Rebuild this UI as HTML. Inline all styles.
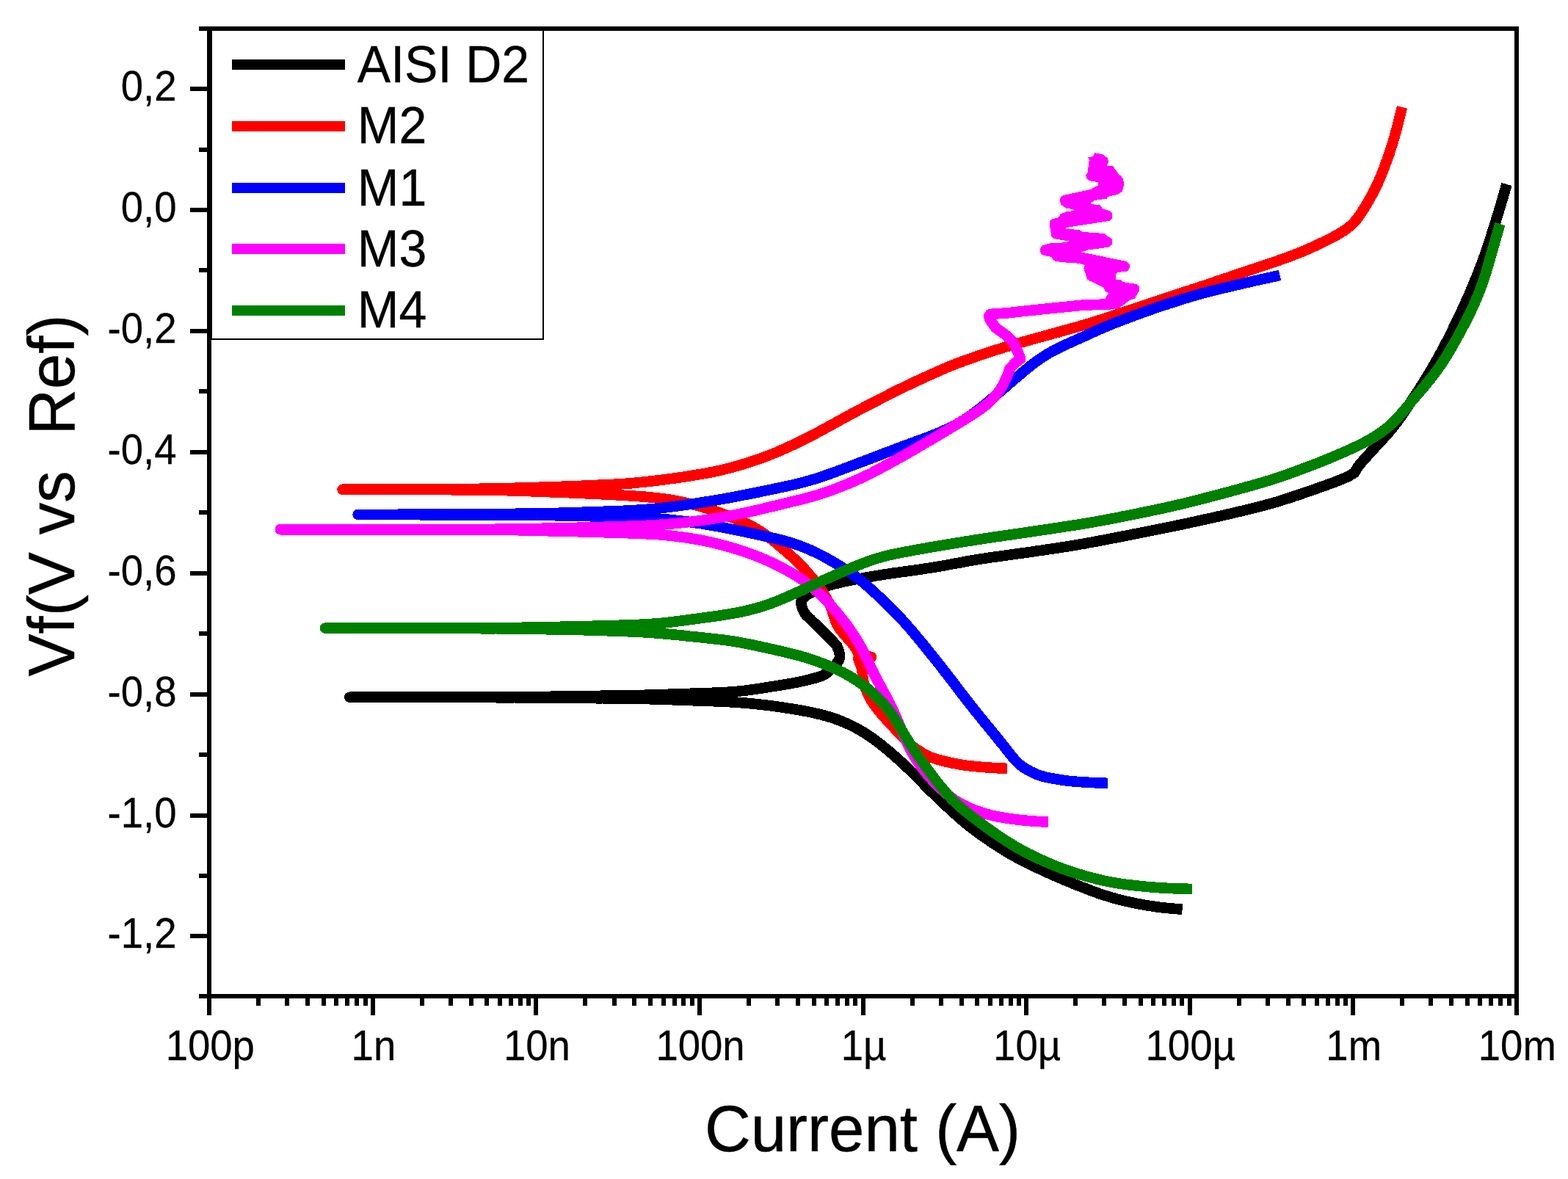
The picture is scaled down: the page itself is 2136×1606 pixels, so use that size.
<!DOCTYPE html>
<html lang="en">
<head>
<meta charset="utf-8">
<title>Polarization curves</title>
<style>
html,body{margin:0;padding:0;background:#fff;}
body{width:2136px;height:1606px;overflow:hidden;}
svg{display:block;}
text{white-space:pre;}
</style>
</head>
<body>
<svg width="2136" height="1606" viewBox="0 0 2136 1606">
<rect x="0" y="0" width="2136" height="1606" fill="#fff"/>
<g fill="none" stroke-width="14.6" stroke-linejoin="round" stroke-linecap="butt" shape-rendering="crispEdges">
<path d="M2052.5,251.0 L2051.4,254.9 L2050.3,258.7 L2049.2,262.6 L2048.1,266.4 L2047.0,270.3 L2045.9,274.1 L2044.7,278.0 L2043.6,281.8 L2042.4,285.7 L2041.3,289.5 L2040.1,293.3 L2038.9,297.2 L2037.7,301.0 L2036.5,304.8 L2035.3,308.6 L2034.1,312.5 L2032.9,316.3 L2031.7,320.1 L2030.5,323.9 L2029.2,327.7 L2028.0,331.6 L2026.8,335.4 L2025.5,339.2 L2024.2,343.0 L2022.9,346.8 L2021.5,350.5 L2020.2,354.3 L2018.8,358.0 L2017.4,361.8 L2015.9,365.5 L2014.4,369.3 L2013.0,373.0 L2011.5,376.7 L2010.0,380.4 L2008.4,384.1 L2006.9,387.8 L2005.4,391.5 L2003.8,395.2 L2002.3,398.9 L2000.7,402.6 L1999.1,406.3 L1997.4,409.9 L1995.8,413.6 L1994.1,417.2 L1992.4,420.9 L1990.7,424.5 L1989.0,428.1 L1987.3,431.7 L1985.5,435.3 L1983.8,439.0 L1982.1,442.6 L1980.3,446.2 L1978.6,449.8 L1976.8,453.4 L1975.0,457.0 L1973.2,460.5 L1971.4,464.1 L1969.5,467.7 L1967.7,471.2 L1965.8,474.8 L1963.9,478.3 L1962.0,481.8 L1960.0,485.3 L1958.1,488.8 L1956.1,492.3 L1954.1,495.8 L1952.1,499.3 L1950.1,502.7 L1948.1,506.2 L1946.0,509.6 L1943.9,513.1 L1941.8,516.5 L1939.7,519.9 L1937.6,523.3 L1935.5,526.7 L1933.3,530.1 L1931.1,533.4 L1928.9,536.8 L1926.7,540.1 L1924.5,543.5 L1922.4,546.8 L1920.2,550.2 L1917.9,553.5 L1915.7,556.9 L1913.5,560.2 L1911.3,563.5 L1909.0,566.8 L1906.6,570.0 L1904.3,573.3 L1901.9,576.5 L1899.5,579.6 L1897.0,582.8 L1894.5,585.9 L1891.9,588.9 L1889.2,591.9 L1886.6,594.9 L1883.9,597.9 L1881.2,600.9 L1878.5,603.8 L1875.8,606.8 L1873.0,609.7 L1870.3,612.7 L1867.6,615.6 L1864.9,618.6 L1862.2,621.5 L1859.5,624.5 L1856.8,627.5 L1854.2,630.5 L1851.6,633.6 L1849.3,636.9 L1847.3,640.3 L1845.2,643.8 L1841.9,645.9 L1838.5,648.0 L1834.9,649.8 L1831.2,651.4 L1827.5,652.9 L1823.8,654.4 L1820.1,655.9 L1816.4,657.3 L1812.6,658.7 L1808.9,660.0 L1805.1,661.4 L1801.3,662.7 L1797.6,664.1 L1793.8,665.4 L1790.0,666.8 L1786.3,668.1 L1782.5,669.4 L1778.7,670.7 L1774.9,672.0 L1771.1,673.3 L1767.3,674.6 L1763.5,675.8 L1759.7,677.1 L1755.9,678.4 L1752.1,679.6 L1748.3,680.8 L1744.5,682.0 L1740.7,683.2 L1736.9,684.3 L1733.0,685.4 L1729.2,686.5 L1725.3,687.5 L1721.4,688.6 L1717.6,689.6 L1713.7,690.6 L1709.8,691.6 L1705.9,692.5 L1702.1,693.5 L1698.2,694.4 L1694.3,695.4 L1690.4,696.3 L1686.5,697.2 L1682.6,698.2 L1678.7,699.1 L1674.8,700.0 L1670.9,700.9 L1667.0,701.8 L1663.1,702.7 L1659.2,703.6 L1655.3,704.5 L1651.4,705.4 L1647.5,706.2 L1643.6,707.1 L1639.7,707.9 L1635.8,708.8 L1631.9,709.6 L1628.0,710.5 L1624.1,711.3 L1620.2,712.2 L1616.3,713.0 L1612.3,713.9 L1608.4,714.7 L1604.5,715.5 L1600.6,716.3 L1596.7,717.2 L1592.8,718.0 L1588.8,718.8 L1584.9,719.5 L1581.0,720.3 L1577.1,721.1 L1573.2,721.9 L1569.2,722.7 L1565.3,723.5 L1561.4,724.2 L1557.5,725.0 L1553.5,725.8 L1549.6,726.6 L1545.7,727.3 L1541.8,728.1 L1537.8,728.9 L1533.9,729.7 L1530.0,730.4 L1526.0,731.2 L1522.1,732.0 L1518.2,732.7 L1514.3,733.5 L1510.3,734.2 L1506.4,735.0 L1502.5,735.8 L1498.6,736.5 L1494.6,737.3 L1490.7,738.0 L1486.8,738.7 L1482.8,739.4 L1478.9,740.2 L1474.9,740.9 L1471.0,741.5 L1467.1,742.2 L1463.1,742.9 L1459.2,743.5 L1455.2,744.2 L1451.3,744.8 L1447.3,745.4 L1443.4,746.0 L1439.4,746.6 L1435.5,747.2 L1431.5,747.8 L1427.5,748.4 L1423.6,749.0 L1419.6,749.6 L1415.7,750.1 L1411.7,750.7 L1407.7,751.3 L1403.8,751.9 L1399.8,752.4 L1395.9,753.0 L1391.9,753.5 L1387.9,754.1 L1384.0,754.6 L1380.0,755.2 L1376.1,755.7 L1372.1,756.3 L1368.1,756.8 L1364.2,757.4 L1360.2,757.9 L1356.2,758.5 L1352.3,759.0 L1348.3,759.6 L1344.4,760.2 L1340.4,760.8 L1336.5,761.4 L1332.5,762.0 L1328.6,762.7 L1324.6,763.4 L1320.7,764.0 L1316.7,764.7 L1312.8,765.4 L1308.9,766.2 L1304.9,766.9 L1301.0,767.6 L1297.1,768.3 L1293.1,769.1 L1289.2,769.8 L1285.3,770.5 L1281.3,771.2 L1277.4,771.9 L1273.4,772.5 L1269.5,773.2 L1265.5,773.8 L1261.6,774.4 L1257.6,775.0 L1253.7,775.6 L1249.7,776.2 L1245.8,776.7 L1241.8,777.3 L1237.8,777.8 L1233.9,778.4 L1229.9,778.9 L1225.9,779.4 L1222.0,780.0 L1218.0,780.5 L1214.0,781.1 L1210.1,781.7 L1206.1,782.2 L1202.2,782.9 L1198.2,783.5 L1194.3,784.1 L1190.3,784.8 L1186.4,785.5 L1182.5,786.2 L1178.5,786.9 L1174.6,787.6 L1170.7,788.3 L1166.7,789.0 L1162.8,789.8 L1158.9,790.5 L1154.9,791.3 L1151.0,792.1 L1147.1,792.9 L1143.2,793.8 L1139.3,794.8 L1135.5,795.7 L1131.6,796.8 L1127.7,797.8 L1123.9,799.0 L1120.1,800.2 L1116.4,801.7 L1112.7,803.2 L1109.1,804.9 L1105.6,806.8 L1102.1,808.7 L1098.7,810.9 L1095.5,813.3 L1092.9,816.1 L1091.4,819.5 L1091.6,823.3 L1092.5,827.2 L1093.9,830.9 L1095.8,834.5 L1097.9,837.8 L1100.8,840.4 L1103.8,843.1 L1106.6,846.0 L1109.5,848.8 L1112.3,851.6 L1115.1,854.4 L1118.0,857.3 L1120.8,860.1 L1123.6,862.9 L1126.4,865.7 L1129.3,868.6 L1132.1,871.4 L1134.9,874.2 L1137.7,877.1 L1140.2,880.1 L1141.7,883.8 L1143.0,887.6 L1143.9,891.4 L1144.0,895.3 L1142.9,899.0 L1140.8,902.3 L1138.3,905.4 L1135.6,908.3 L1132.7,911.1 L1129.8,913.8 L1126.7,916.4 L1123.4,918.6 L1120.0,920.6 L1116.2,921.9 L1112.4,923.0 L1108.5,924.0 L1104.7,925.0 L1100.8,926.0 L1096.9,927.0 L1093.0,927.9 L1089.1,928.8 L1085.2,929.6 L1081.3,930.3 L1077.3,931.0 L1073.4,931.7 L1069.4,932.3 L1065.5,933.0 L1061.6,933.6 L1057.6,934.3 L1053.7,934.9 L1049.7,935.5 L1045.8,936.2 L1041.8,936.8 L1037.9,937.4 L1033.9,938.0 L1029.9,938.6 L1026.0,939.2 L1022.0,939.8 L1018.1,940.3 L1014.1,940.8 L1010.1,941.2 L1006.2,941.6 L1002.2,942.0 L998.2,942.3 L994.2,942.6 L990.2,942.9 L986.3,943.1 L982.3,943.3 L978.3,943.5 L974.3,943.6 L970.3,943.8 L966.3,943.9 L962.3,944.0 L958.3,944.2 L954.3,944.3 L950.3,944.4 L946.3,944.6 L942.3,944.7 L938.3,944.9 L934.3,945.0 L930.3,945.1 L926.3,945.3 L922.3,945.4 L918.3,945.5 L914.3,945.7 L910.3,945.8 L906.3,945.9 L902.3,946.0 L898.3,946.2 L894.3,946.3 L890.3,946.4 L886.3,946.5 L882.3,946.7 L878.3,946.8 L874.3,946.9 L870.3,946.9 L866.3,947.0 L862.3,947.1 L858.3,947.2 L854.3,947.3 L850.3,947.3 L846.3,947.4 L842.3,947.5 L838.3,947.5 L834.3,947.6 L830.3,947.6 L826.3,947.7 L822.3,947.7 L818.3,947.8 L814.3,947.9 L810.3,947.9 L806.3,948.0 L802.3,948.0 L798.3,948.1 L794.3,948.1 L790.3,948.2 L786.3,948.3 L782.3,948.3 L778.3,948.4 L774.3,948.4 L770.3,948.5 L766.3,948.5 L762.3,948.6 L758.3,948.7 L754.3,948.7 L750.3,948.8 L746.3,948.8 L742.3,948.9 L738.3,948.9 L734.3,949.0 L730.3,949.1 L726.3,949.1 L722.3,949.2 L718.3,949.2 L714.3,949.3 L710.3,949.3 L706.3,949.4 L702.3,949.4 L698.3,949.4 L694.3,949.4 L690.3,949.5 L686.3,949.5 L682.3,949.5 L678.3,949.5 L674.3,949.5 L670.3,949.5 L666.3,949.5 L662.3,949.5 L658.3,949.5 L654.3,949.6 L650.3,949.6 L646.3,949.6 L642.3,949.6 L638.3,949.6 L634.3,949.6 L630.3,949.6 L626.3,949.6 L622.3,949.6 L618.3,949.6 L614.3,949.6 L610.3,949.6 L606.3,949.6 L602.3,949.6 L598.3,949.6 L594.3,949.6 L590.3,949.6 L586.3,949.6 L582.3,949.6 L578.3,949.6 L574.3,949.6 L570.3,949.6 L566.3,949.6 L562.3,949.7 L558.3,949.7 L554.3,949.7 L550.3,949.7 L546.3,949.7 L542.3,949.7 L538.3,949.7 L534.3,949.7 L530.3,949.7 L526.3,949.7 L522.3,949.7 L518.3,949.7 L514.3,949.7 L510.3,949.7 L506.3,949.7 L502.3,949.7 L498.3,949.7 L494.3,949.7 L490.3,949.7 L486.3,949.7 L482.3,949.7 L478.3,949.7 L476.3,949.7 L480.3,949.8 L484.3,949.8 L488.3,949.8 L492.3,949.8 L496.3,949.8 L500.3,949.8 L504.3,949.8 L508.3,949.8 L512.3,949.8 L516.3,949.8 L520.3,949.8 L524.3,949.8 L528.3,949.9 L532.3,949.9 L536.3,949.9 L540.3,949.9 L544.3,949.9 L548.3,949.9 L552.3,949.9 L556.3,949.9 L560.3,949.9 L564.3,949.9 L568.3,949.9 L572.3,949.9 L576.3,950.0 L580.3,950.0 L584.3,950.0 L588.3,950.0 L592.3,950.0 L596.3,950.0 L600.3,950.0 L604.3,950.0 L608.3,950.0 L612.3,950.0 L616.3,950.0 L620.3,950.0 L624.3,950.0 L628.3,950.1 L632.3,950.1 L636.3,950.1 L640.3,950.1 L644.3,950.1 L648.3,950.1 L652.3,950.1 L656.3,950.1 L660.3,950.1 L664.3,950.1 L668.3,950.1 L672.3,950.1 L676.3,950.2 L680.3,950.2 L684.3,950.2 L688.3,950.2 L692.3,950.2 L696.3,950.2 L700.3,950.2 L704.3,950.3 L708.3,950.3 L712.3,950.3 L716.3,950.4 L720.3,950.4 L724.3,950.4 L728.3,950.4 L732.3,950.5 L736.3,950.5 L740.3,950.5 L744.3,950.6 L748.3,950.6 L752.3,950.7 L756.3,950.7 L760.3,950.7 L764.3,950.8 L768.3,950.8 L772.3,950.8 L776.3,950.9 L780.3,950.9 L784.4,950.9 L788.4,951.0 L792.4,951.0 L796.4,951.0 L800.4,951.1 L804.4,951.1 L808.4,951.1 L812.4,951.2 L816.4,951.2 L820.4,951.2 L824.4,951.3 L828.4,951.3 L832.4,951.3 L836.4,951.4 L840.4,951.4 L844.4,951.5 L848.4,951.5 L852.4,951.5 L856.4,951.6 L860.4,951.6 L864.4,951.7 L868.4,951.8 L872.4,951.9 L876.4,951.9 L880.4,952.0 L884.4,952.2 L888.4,952.3 L892.4,952.4 L896.4,952.5 L900.4,952.7 L904.4,952.8 L908.4,952.9 L912.4,953.1 L916.4,953.2 L920.4,953.4 L924.4,953.5 L928.4,953.6 L932.4,953.8 L936.4,953.9 L940.4,954.1 L944.4,954.2 L948.4,954.4 L952.4,954.5 L956.4,954.6 L960.4,954.8 L964.3,954.9 L968.3,955.1 L972.3,955.2 L976.3,955.4 L980.3,955.5 L984.3,955.7 L988.3,955.9 L992.3,956.1 L996.3,956.3 L1000.3,956.5 L1004.3,956.8 L1008.3,957.1 L1012.3,957.4 L1016.3,957.7 L1020.3,958.1 L1024.2,958.5 L1028.2,958.9 L1032.2,959.3 L1036.2,959.7 L1040.1,960.2 L1044.1,960.6 L1048.1,961.1 L1052.1,961.6 L1056.0,962.2 L1060.0,962.7 L1063.9,963.3 L1067.9,963.9 L1071.8,964.5 L1075.8,965.1 L1079.8,965.7 L1083.7,966.4 L1087.6,967.0 L1091.6,967.7 L1095.5,968.5 L1099.4,969.2 L1103.4,970.0 L1107.3,970.8 L1111.2,971.7 L1115.0,972.6 L1118.9,973.5 L1122.8,974.6 L1126.6,975.6 L1130.4,976.8 L1134.2,978.0 L1138.0,979.3 L1141.7,980.6 L1145.4,982.1 L1149.1,983.6 L1152.8,985.2 L1156.4,986.8 L1160.0,988.5 L1163.5,990.3 L1167.1,992.2 L1170.5,994.1 L1174.0,996.1 L1177.4,998.1 L1180.7,1000.3 L1184.1,1002.5 L1187.3,1004.7 L1190.6,1007.1 L1193.8,1009.4 L1197.0,1011.8 L1200.1,1014.3 L1203.2,1016.8 L1206.3,1019.3 L1209.4,1021.9 L1212.5,1024.5 L1215.5,1027.1 L1218.5,1029.7 L1221.5,1032.3 L1224.5,1035.0 L1227.4,1037.7 L1230.4,1040.4 L1233.3,1043.1 L1236.2,1045.9 L1239.1,1048.7 L1241.9,1051.5 L1244.8,1054.3 L1247.6,1057.1 L1250.4,1059.9 L1253.2,1062.8 L1256.0,1065.6 L1258.8,1068.5 L1261.6,1071.3 L1264.5,1074.2 L1267.3,1077.0 L1270.1,1079.8 L1273.0,1082.6 L1275.8,1085.4 L1278.7,1088.2 L1281.6,1090.9 L1284.5,1093.7 L1287.5,1096.4 L1290.4,1099.1 L1293.3,1101.8 L1296.3,1104.5 L1299.2,1107.2 L1302.2,1109.9 L1305.2,1112.6 L1308.2,1115.2 L1311.2,1117.8 L1314.2,1120.4 L1317.3,1122.9 L1320.4,1125.4 L1323.6,1127.9 L1326.8,1130.3 L1330.0,1132.7 L1333.2,1135.0 L1336.4,1137.4 L1339.7,1139.7 L1343.0,1141.9 L1346.3,1144.2 L1349.6,1146.5 L1352.9,1148.7 L1356.3,1150.9 L1359.6,1153.1 L1363.0,1155.2 L1366.4,1157.3 L1369.8,1159.4 L1373.2,1161.5 L1376.6,1163.5 L1380.1,1165.5 L1383.6,1167.4 L1387.1,1169.3 L1390.7,1171.2 L1394.2,1173.0 L1397.8,1174.8 L1401.4,1176.6 L1404.9,1178.4 L1408.6,1180.1 L1412.2,1181.8 L1415.8,1183.5 L1419.4,1185.2 L1423.1,1186.9 L1426.7,1188.5 L1430.3,1190.2 L1434.0,1191.8 L1437.7,1193.4 L1441.3,1195.0 L1445.0,1196.6 L1448.7,1198.1 L1452.4,1199.7 L1456.1,1201.2 L1459.8,1202.8 L1463.5,1204.3 L1467.2,1205.8 L1470.9,1207.2 L1474.6,1208.7 L1478.4,1210.1 L1482.1,1211.6 L1485.8,1213.0 L1489.6,1214.4 L1493.3,1215.7 L1497.1,1217.1 L1500.9,1218.4 L1504.7,1219.6 L1508.5,1220.8 L1512.3,1222.0 L1516.1,1223.1 L1520.0,1224.2 L1523.8,1225.2 L1527.7,1226.2 L1531.6,1227.1 L1535.5,1228.0 L1539.4,1228.9 L1543.3,1229.7 L1547.2,1230.5 L1551.1,1231.3 L1555.1,1232.0 L1559.0,1232.7 L1562.9,1233.4 L1566.9,1234.0 L1570.8,1234.6 L1574.8,1235.2 L1578.8,1235.7 L1582.7,1236.2 L1586.7,1236.6 L1590.7,1237.0 L1594.7,1237.4 L1598.6,1237.7 L1602.6,1238.1 L1606.6,1238.4 L1610.6,1238.7" stroke="#000"/>
<path d="M1910.0,146.0 L1909.0,149.9 L1908.1,153.8 L1907.1,157.7 L1906.2,161.5 L1905.2,165.4 L1904.2,169.3 L1903.2,173.2 L1902.2,177.0 L1901.1,180.9 L1900.1,184.8 L1899.0,188.6 L1897.9,192.5 L1896.7,196.3 L1895.5,200.1 L1894.3,203.9 L1893.1,207.7 L1891.8,211.5 L1890.5,215.3 L1889.1,219.0 L1887.7,222.8 L1886.3,226.5 L1884.9,230.3 L1883.4,234.0 L1882.0,237.7 L1880.4,241.4 L1878.9,245.1 L1877.3,248.8 L1875.6,252.4 L1873.9,256.0 L1872.1,259.6 L1870.2,263.1 L1868.3,266.6 L1866.4,270.1 L1864.4,273.6 L1862.4,277.1 L1860.4,280.5 L1858.3,283.9 L1856.1,287.3 L1853.9,290.6 L1851.7,293.9 L1849.3,297.2 L1846.9,300.3 L1844.3,303.2 L1841.5,306.0 L1838.5,308.6 L1835.4,311.0 L1832.2,313.3 L1828.9,315.5 L1825.5,317.6 L1822.0,319.6 L1818.5,321.6 L1815.0,323.5 L1811.4,325.3 L1807.9,327.1 L1804.3,328.9 L1800.7,330.6 L1797.1,332.3 L1793.4,334.0 L1789.8,335.7 L1786.2,337.4 L1782.5,339.0 L1778.8,340.6 L1775.2,342.2 L1771.5,343.7 L1767.8,345.2 L1764.0,346.6 L1760.3,348.1 L1756.6,349.5 L1752.8,350.8 L1749.0,352.2 L1745.3,353.5 L1741.5,354.9 L1737.7,356.2 L1733.9,357.5 L1730.1,358.8 L1726.3,360.0 L1722.6,361.3 L1718.8,362.6 L1715.0,363.9 L1711.2,365.2 L1707.4,366.5 L1703.6,367.8 L1699.8,369.0 L1696.0,370.3 L1692.2,371.6 L1688.4,372.9 L1684.6,374.1 L1680.8,375.4 L1677.0,376.7 L1673.2,378.0 L1669.4,379.2 L1665.6,380.5 L1661.8,381.8 L1658.0,383.0 L1654.3,384.3 L1650.5,385.6 L1646.7,386.8 L1642.9,388.1 L1639.1,389.4 L1635.3,390.6 L1631.5,391.9 L1627.7,393.2 L1623.9,394.4 L1620.1,395.7 L1616.3,396.9 L1612.5,398.2 L1608.7,399.4 L1604.9,400.7 L1601.1,401.9 L1597.3,403.2 L1593.5,404.5 L1589.6,405.7 L1585.8,407.0 L1582.0,408.2 L1578.2,409.5 L1574.4,410.7 L1570.6,412.0 L1566.8,413.3 L1563.0,414.5 L1559.2,415.8 L1555.4,417.0 L1551.7,418.3 L1547.9,419.6 L1544.1,420.9 L1540.3,422.1 L1536.5,423.4 L1532.7,424.7 L1528.9,425.9 L1525.1,427.2 L1521.3,428.5 L1517.5,429.7 L1513.7,431.0 L1509.9,432.2 L1506.1,433.5 L1502.3,434.7 L1498.4,435.9 L1494.6,437.1 L1490.8,438.3 L1487.0,439.5 L1483.2,440.7 L1479.3,441.8 L1475.5,442.9 L1471.6,444.0 L1467.8,445.2 L1463.9,446.2 L1460.1,447.3 L1456.2,448.4 L1452.4,449.5 L1448.5,450.5 L1444.6,451.6 L1440.8,452.7 L1436.9,453.7 L1433.1,454.8 L1429.2,455.9 L1425.4,456.9 L1421.5,458.0 L1417.6,459.1 L1413.8,460.1 L1409.9,461.2 L1406.1,462.3 L1402.2,463.3 L1398.3,464.4 L1394.5,465.5 L1390.6,466.6 L1386.8,467.7 L1382.9,468.8 L1379.1,469.9 L1375.3,471.0 L1371.4,472.2 L1367.6,473.3 L1363.8,474.5 L1360.0,475.7 L1356.1,476.9 L1352.3,478.2 L1348.5,479.4 L1344.7,480.7 L1340.9,481.9 L1337.1,483.2 L1333.3,484.5 L1329.6,485.8 L1325.8,487.1 L1322.0,488.4 L1318.2,489.7 L1314.4,491.0 L1310.7,492.4 L1306.9,493.8 L1303.2,495.2 L1299.5,496.7 L1295.8,498.2 L1292.1,499.7 L1288.4,501.3 L1284.7,502.8 L1281.0,504.4 L1277.4,506.1 L1273.7,507.7 L1270.1,509.3 L1266.4,511.0 L1262.8,512.6 L1259.1,514.3 L1255.5,516.0 L1251.9,517.6 L1248.2,519.3 L1244.6,521.0 L1241.0,522.7 L1237.4,524.4 L1233.8,526.1 L1230.2,527.9 L1226.6,529.6 L1223.0,531.4 L1219.4,533.2 L1215.8,535.0 L1212.2,536.8 L1208.7,538.6 L1205.1,540.4 L1201.5,542.2 L1198.0,544.1 L1194.4,545.9 L1190.8,547.7 L1187.3,549.5 L1183.7,551.4 L1180.2,553.2 L1176.6,555.1 L1173.1,556.9 L1169.5,558.8 L1166.0,560.7 L1162.5,562.6 L1158.9,564.5 L1155.4,566.4 L1151.9,568.3 L1148.4,570.2 L1144.9,572.1 L1141.4,574.0 L1137.9,576.0 L1134.4,577.9 L1130.8,579.8 L1127.3,581.8 L1123.8,583.7 L1120.3,585.6 L1116.8,587.5 L1113.3,589.4 L1109.7,591.3 L1106.2,593.1 L1102.6,595.0 L1099.1,596.8 L1095.5,598.6 L1091.9,600.4 L1088.3,602.1 L1084.7,603.8 L1081.1,605.6 L1077.5,607.3 L1073.8,608.9 L1070.2,610.6 L1066.6,612.2 L1062.9,613.9 L1059.2,615.5 L1055.5,617.0 L1051.8,618.5 L1048.1,620.0 L1044.4,621.4 L1040.7,622.8 L1036.9,624.2 L1033.1,625.5 L1029.3,626.8 L1025.5,628.0 L1021.7,629.3 L1017.9,630.5 L1014.1,631.7 L1010.3,632.9 L1006.5,634.0 L1002.6,635.1 L998.8,636.3 L994.9,637.3 L991.1,638.3 L987.2,639.3 L983.3,640.3 L979.4,641.1 L975.5,642.0 L971.6,642.8 L967.7,643.5 L963.7,644.3 L959.8,645.0 L955.9,645.7 L951.9,646.3 L948.0,647.0 L944.0,647.6 L940.1,648.3 L936.1,648.9 L932.2,649.5 L928.2,650.1 L924.2,650.7 L920.3,651.2 L916.3,651.8 L912.3,652.3 L908.4,652.8 L904.4,653.4 L900.4,653.9 L896.5,654.3 L892.5,654.8 L888.5,655.3 L884.5,655.7 L880.6,656.2 L876.6,656.6 L872.6,657.0 L868.6,657.4 L864.6,657.8 L860.7,658.2 L856.7,658.5 L852.7,658.8 L848.7,659.1 L844.7,659.3 L840.7,659.6 L836.7,659.8 L832.7,660.0 L828.7,660.2 L824.7,660.4 L820.7,660.6 L816.7,660.7 L812.7,660.9 L808.7,661.1 L804.7,661.3 L800.7,661.5 L796.7,661.6 L792.7,661.8 L788.7,662.0 L784.7,662.1 L780.7,662.3 L776.7,662.4 L772.7,662.5 L768.7,662.7 L764.7,662.8 L760.7,662.9 L756.7,663.1 L752.7,663.2 L748.7,663.3 L744.7,663.5 L740.7,663.6 L736.7,663.7 L732.7,663.9 L728.7,664.0 L724.7,664.1 L720.7,664.2 L716.7,664.4 L712.7,664.5 L708.7,664.6 L704.7,664.7 L700.7,664.8 L696.7,665.0 L692.7,665.1 L688.7,665.1 L684.7,665.2 L680.7,665.3 L676.7,665.4 L672.7,665.5 L668.7,665.5 L664.7,665.6 L660.7,665.7 L656.7,665.7 L652.7,665.8 L648.6,665.8 L644.6,665.9 L640.6,665.9 L636.6,666.0 L632.6,666.0 L628.6,666.1 L624.6,666.1 L620.6,666.2 L616.6,666.2 L612.6,666.3 L608.6,666.3 L604.6,666.4 L600.6,666.4 L596.6,666.4 L592.6,666.5 L588.6,666.5 L584.6,666.5 L580.6,666.5 L576.6,666.5 L572.6,666.5 L568.6,666.6 L564.6,666.6 L560.6,666.6 L556.6,666.6 L552.6,666.6 L548.6,666.6 L544.6,666.6 L540.6,666.6 L536.6,666.6 L532.6,666.6 L528.6,666.6 L524.5,666.6 L520.5,666.6 L516.5,666.7 L512.5,666.7 L508.5,666.7 L504.5,666.7 L500.5,666.7 L496.5,666.7 L492.5,666.7 L488.5,666.7 L484.5,666.7 L480.5,666.7 L476.5,666.7 L472.5,666.7 L468.5,666.7 L466.5,666.8 L470.5,666.8 L474.5,666.8 L478.5,666.8 L482.5,666.8 L486.5,666.8 L490.6,666.8 L494.6,666.8 L498.6,666.8 L502.6,666.8 L506.6,666.8 L510.6,666.8 L514.6,666.8 L518.6,666.8 L522.6,666.9 L526.6,666.9 L530.7,666.9 L534.7,666.9 L538.7,666.9 L542.7,666.9 L546.7,666.9 L550.7,666.9 L554.7,666.9 L558.7,666.9 L562.7,666.9 L566.7,666.9 L570.7,666.9 L574.8,667.0 L578.8,667.0 L582.8,667.0 L586.8,667.0 L590.8,667.0 L594.8,667.0 L598.8,667.1 L602.8,667.1 L606.8,667.1 L610.8,667.1 L614.8,667.2 L618.9,667.2 L622.9,667.3 L626.9,667.3 L630.9,667.3 L634.9,667.4 L638.9,667.4 L642.9,667.5 L646.9,667.5 L650.9,667.6 L654.9,667.6 L658.9,667.7 L663.0,667.7 L667.0,667.8 L671.0,667.8 L675.0,667.9 L679.0,668.0 L683.0,668.0 L687.0,668.1 L691.0,668.2 L695.0,668.3 L699.0,668.4 L703.0,668.6 L707.0,668.7 L711.1,668.8 L715.1,669.0 L719.1,669.1 L723.1,669.2 L727.1,669.4 L731.1,669.5 L735.1,669.7 L739.1,669.8 L743.1,670.0 L747.1,670.1 L751.1,670.3 L755.1,670.4 L759.1,670.6 L763.1,670.7 L767.1,670.9 L771.2,671.1 L775.2,671.2 L779.2,671.4 L783.2,671.5 L787.2,671.7 L791.2,671.9 L795.2,672.1 L799.2,672.3 L803.2,672.4 L807.2,672.6 L811.2,672.8 L815.2,673.0 L819.2,673.2 L823.2,673.4 L827.2,673.6 L831.2,673.8 L835.2,674.0 L839.2,674.2 L843.2,674.5 L847.2,674.7 L851.2,674.9 L855.3,675.1 L859.3,675.4 L863.3,675.6 L867.3,675.9 L871.2,676.2 L875.2,676.5 L879.2,676.8 L883.2,677.2 L887.2,677.6 L891.2,678.0 L895.2,678.4 L899.2,678.9 L903.1,679.4 L907.1,679.9 L911.1,680.5 L915.0,681.1 L919.0,681.8 L922.9,682.5 L926.8,683.3 L930.8,684.1 L934.7,684.9 L938.6,685.8 L942.4,686.8 L946.3,687.8 L950.2,688.8 L954.0,689.9 L957.9,691.1 L961.7,692.2 L965.5,693.4 L969.3,694.7 L973.1,696.0 L976.9,697.3 L980.7,698.6 L984.5,699.9 L988.2,701.3 L992.0,702.7 L995.7,704.2 L999.4,705.6 L1003.1,707.1 L1006.8,708.7 L1010.5,710.2 L1014.1,711.9 L1017.7,713.6 L1021.3,715.4 L1024.8,717.2 L1028.3,719.2 L1031.7,721.2 L1035.1,723.3 L1038.4,725.5 L1041.7,727.7 L1044.9,730.1 L1048.1,732.5 L1051.3,734.9 L1054.4,737.4 L1057.5,739.9 L1060.5,742.5 L1063.6,745.1 L1066.6,747.7 L1069.7,750.3 L1072.7,752.9 L1075.7,755.5 L1078.6,758.2 L1081.6,760.8 L1084.5,763.6 L1087.3,766.3 L1090.2,769.1 L1092.9,772.0 L1095.7,774.9 L1098.3,777.9 L1101.0,780.9 L1103.5,783.9 L1106.1,787.0 L1108.7,790.0 L1111.2,793.1 L1113.6,796.3 L1116.0,799.5 L1118.2,802.8 L1120.4,806.2 L1122.6,809.6 L1124.6,813.0 L1126.7,816.5 L1128.6,820.0 L1130.4,823.5 L1131.9,827.2 L1133.4,831.0 L1134.6,834.7 L1135.8,838.6 L1136.9,842.4 L1138.2,846.2 L1139.8,849.8 L1141.8,853.2 L1143.9,856.6 L1146.3,859.8 L1148.8,862.9 L1151.5,865.9 L1154.1,868.9 L1156.8,871.9 L1159.4,874.9 L1161.9,878.0 L1164.4,881.2 L1166.5,884.5 L1168.2,888.2 L1169.0,890.0 L1187.0,895.0 L1169.0,897.0 L1170.4,900.7 L1171.8,904.5 L1173.3,908.2 L1174.2,912.0 L1174.8,915.9 L1175.1,919.8 L1175.4,923.8 L1176.1,927.7 L1177.2,931.5 L1178.4,935.3 L1179.7,939.1 L1181.2,942.8 L1182.7,946.5 L1184.5,950.0 L1186.6,953.5 L1188.8,956.8 L1191.0,960.1 L1193.4,963.3 L1195.8,966.5 L1198.3,969.6 L1200.8,972.7 L1203.4,975.7 L1206.1,978.7 L1208.7,981.7 L1211.5,984.7 L1214.2,987.6 L1216.9,990.5 L1219.7,993.4 L1222.4,996.3 L1225.2,999.2 L1227.9,1002.1 L1230.7,1005.0 L1233.5,1007.9 L1236.3,1010.8 L1239.1,1013.5 L1242.2,1016.1 L1245.4,1018.4 L1248.6,1020.7 L1252.0,1022.9 L1255.4,1025.1 L1258.8,1027.1 L1262.3,1029.0 L1265.9,1030.6 L1269.6,1032.1 L1273.4,1033.3 L1277.2,1034.5 L1281.0,1035.6 L1284.9,1036.6 L1288.8,1037.6 L1292.6,1038.5 L1296.5,1039.3 L1300.5,1040.0 L1304.4,1040.8 L1308.3,1041.5 L1312.2,1042.1 L1316.2,1042.7 L1320.2,1043.2 L1324.1,1043.6 L1328.1,1044.0 L1332.1,1044.4 L1336.1,1044.8 L1340.0,1045.1 L1344.0,1045.3 L1348.0,1045.6 L1352.0,1045.9 L1356.0,1046.1 L1360.0,1046.3 L1364.0,1046.5 L1368.0,1046.7 L1372.0,1046.9" stroke="#f00"/>
<path d="M1743.5,375.0 L1739.6,375.9 L1735.7,376.7 L1731.8,377.6 L1727.9,378.4 L1724.0,379.3 L1720.0,380.1 L1716.1,381.0 L1712.2,381.9 L1708.3,382.7 L1704.4,383.6 L1700.5,384.5 L1696.6,385.4 L1692.7,386.3 L1688.8,387.2 L1684.9,388.1 L1681.0,389.0 L1677.1,389.9 L1673.2,390.9 L1669.4,391.8 L1665.5,392.7 L1661.6,393.6 L1657.7,394.6 L1653.8,395.5 L1649.9,396.5 L1646.0,397.5 L1642.2,398.5 L1638.3,399.5 L1634.5,400.6 L1630.6,401.7 L1626.8,402.8 L1622.9,403.9 L1619.1,405.1 L1615.3,406.2 L1611.5,407.4 L1607.6,408.6 L1603.8,409.8 L1600.0,411.1 L1596.2,412.3 L1592.4,413.5 L1588.6,414.8 L1584.8,416.0 L1581.0,417.3 L1577.2,418.5 L1573.4,419.8 L1569.6,421.1 L1565.9,422.4 L1562.1,423.8 L1558.3,425.1 L1554.6,426.5 L1550.8,427.8 L1547.0,429.2 L1543.3,430.6 L1539.5,432.0 L1535.8,433.4 L1532.1,434.8 L1528.3,436.3 L1524.6,437.7 L1520.9,439.1 L1517.1,440.6 L1513.4,442.1 L1509.7,443.6 L1506.0,445.1 L1502.4,446.7 L1498.7,448.3 L1495.0,449.9 L1491.4,451.5 L1487.7,453.2 L1484.1,454.8 L1480.5,456.5 L1476.8,458.2 L1473.2,459.8 L1469.6,461.5 L1465.9,463.1 L1462.3,464.8 L1458.6,466.4 L1455.0,468.0 L1451.3,469.7 L1447.7,471.4 L1444.1,473.1 L1440.5,474.9 L1437.0,476.7 L1433.5,478.6 L1430.0,480.5 L1426.6,482.5 L1423.2,484.6 L1419.8,486.8 L1416.5,489.0 L1413.3,491.3 L1410.1,493.6 L1406.9,496.0 L1403.7,498.5 L1400.6,501.0 L1397.5,503.5 L1394.4,506.0 L1391.4,508.6 L1388.3,511.2 L1385.3,513.8 L1382.2,516.4 L1379.2,519.0 L1376.1,521.6 L1373.1,524.2 L1370.1,526.8 L1367.1,529.5 L1364.0,532.1 L1361.0,534.7 L1358.0,537.3 L1354.9,539.9 L1351.9,542.5 L1348.8,545.1 L1345.8,547.6 L1342.7,550.2 L1339.6,552.7 L1336.5,555.2 L1333.3,557.6 L1330.1,560.1 L1326.9,562.5 L1323.7,564.8 L1320.5,567.1 L1317.2,569.3 L1313.8,571.5 L1310.4,573.6 L1307.0,575.7 L1303.6,577.6 L1300.1,579.6 L1296.5,581.4 L1293.0,583.2 L1289.4,584.9 L1285.7,586.5 L1282.1,588.1 L1278.4,589.7 L1274.7,591.2 L1271.0,592.7 L1267.3,594.1 L1263.6,595.6 L1259.8,597.0 L1256.1,598.4 L1252.3,599.8 L1248.6,601.1 L1244.8,602.5 L1241.0,603.9 L1237.3,605.3 L1233.5,606.7 L1229.8,608.0 L1226.0,609.4 L1222.3,610.8 L1218.5,612.3 L1214.8,613.7 L1211.1,615.1 L1207.3,616.5 L1203.6,617.9 L1199.8,619.4 L1196.1,620.8 L1192.4,622.2 L1188.6,623.6 L1184.9,625.1 L1181.1,626.5 L1177.4,627.9 L1173.7,629.3 L1169.9,630.8 L1166.2,632.2 L1162.4,633.6 L1158.7,635.0 L1155.0,636.4 L1151.2,637.8 L1147.5,639.2 L1143.7,640.6 L1140.0,642.0 L1136.2,643.4 L1132.5,644.8 L1128.7,646.1 L1124.9,647.4 L1121.1,648.7 L1117.3,650.0 L1113.6,651.3 L1109.7,652.5 L1105.9,653.6 L1102.1,654.8 L1098.2,655.8 L1094.4,656.9 L1090.5,657.9 L1086.6,658.8 L1082.7,659.8 L1078.9,660.7 L1075.0,661.5 L1071.0,662.4 L1067.1,663.2 L1063.2,664.1 L1059.3,664.9 L1055.4,665.7 L1051.5,666.6 L1047.6,667.4 L1043.6,668.2 L1039.7,669.0 L1035.8,669.8 L1031.9,670.6 L1028.0,671.4 L1024.0,672.2 L1020.1,673.0 L1016.2,673.7 L1012.3,674.5 L1008.3,675.3 L1004.4,676.1 L1000.5,676.8 L996.6,677.6 L992.6,678.3 L988.7,679.0 L984.8,679.7 L980.8,680.4 L976.9,681.1 L972.9,681.7 L969.0,682.4 L965.0,683.0 L961.1,683.6 L957.1,684.3 L953.2,684.9 L949.2,685.5 L945.3,686.1 L941.3,686.7 L937.3,687.3 L933.4,687.8 L929.4,688.4 L925.5,689.0 L921.5,689.5 L917.5,690.0 L913.6,690.5 L909.6,691.0 L905.6,691.5 L901.6,691.9 L897.7,692.3 L893.7,692.7 L889.7,693.1 L885.7,693.5 L881.7,693.8 L877.7,694.1 L873.8,694.4 L869.8,694.7 L865.8,694.9 L861.8,695.2 L857.8,695.4 L853.8,695.6 L849.8,695.8 L845.8,696.0 L841.8,696.1 L837.8,696.3 L833.8,696.4 L829.8,696.6 L825.8,696.7 L821.8,696.8 L817.8,697.0 L813.8,697.1 L809.8,697.2 L805.8,697.4 L801.8,697.5 L797.8,697.6 L793.8,697.8 L789.8,697.9 L785.8,698.0 L781.8,698.1 L777.8,698.3 L773.8,698.4 L769.8,698.5 L765.8,698.6 L761.8,698.8 L757.8,698.9 L753.8,699.0 L749.8,699.1 L745.8,699.2 L741.8,699.3 L737.8,699.4 L733.8,699.4 L729.8,699.5 L725.8,699.5 L721.8,699.6 L717.8,699.6 L713.8,699.7 L709.8,699.7 L705.8,699.7 L701.8,699.8 L697.8,699.8 L693.8,699.8 L689.8,699.9 L685.8,699.9 L681.8,699.9 L677.8,699.9 L673.8,700.0 L669.8,700.0 L665.8,700.0 L661.8,700.1 L657.8,700.1 L653.8,700.1 L649.8,700.1 L645.8,700.2 L641.8,700.2 L637.8,700.2 L633.8,700.3 L629.8,700.3 L625.8,700.3 L621.8,700.3 L617.8,700.4 L613.8,700.4 L609.8,700.4 L605.8,700.4 L601.8,700.5 L597.8,700.5 L593.8,700.5 L589.8,700.5 L585.8,700.6 L581.8,700.6 L577.8,700.6 L573.8,700.6 L569.8,700.6 L565.8,700.7 L561.8,700.7 L557.8,700.7 L553.8,700.7 L549.8,700.7 L545.8,700.7 L541.8,700.8 L537.8,700.8 L533.8,700.8 L529.8,700.8 L525.8,700.8 L521.8,700.8 L517.8,700.9 L513.8,700.9 L509.8,700.9 L505.8,700.9 L501.8,700.9 L497.8,701.0 L493.8,701.0 L489.8,701.0 L487.7,701.0 L491.8,701.0 L495.8,701.0 L499.8,701.0 L503.8,701.0 L507.8,701.0 L511.8,701.0 L515.8,701.0 L519.8,701.1 L523.8,701.1 L527.8,701.1 L531.8,701.1 L535.8,701.1 L539.8,701.1 L543.8,701.1 L547.8,701.1 L551.8,701.1 L555.8,701.1 L559.8,701.1 L563.8,701.1 L567.8,701.1 L571.8,701.2 L575.8,701.2 L579.9,701.2 L583.9,701.2 L587.9,701.2 L591.9,701.2 L595.9,701.2 L599.9,701.2 L603.9,701.2 L607.9,701.2 L611.9,701.3 L615.9,701.3 L619.9,701.3 L623.9,701.3 L627.9,701.3 L631.9,701.3 L635.9,701.3 L639.9,701.4 L643.9,701.4 L647.9,701.4 L651.9,701.4 L655.9,701.4 L659.9,701.4 L663.9,701.5 L668.0,701.5 L672.0,701.5 L676.0,701.5 L680.0,701.5 L684.0,701.5 L688.0,701.5 L692.0,701.6 L696.0,701.6 L700.0,701.6 L704.0,701.6 L708.0,701.6 L712.0,701.6 L716.0,701.7 L720.0,701.7 L724.0,701.7 L728.0,701.8 L732.0,701.8 L736.0,701.8 L740.0,701.9 L744.0,701.9 L748.0,702.0 L752.0,702.1 L756.0,702.2 L760.0,702.2 L764.1,702.3 L768.1,702.4 L772.1,702.5 L776.1,702.6 L780.1,702.7 L784.1,702.8 L788.1,702.9 L792.1,702.9 L796.1,703.0 L800.1,703.1 L804.1,703.2 L808.1,703.3 L812.1,703.4 L816.1,703.5 L820.1,703.6 L824.1,703.7 L828.1,703.8 L832.1,703.9 L836.1,704.0 L840.1,704.1 L844.1,704.2 L848.1,704.3 L852.1,704.4 L856.1,704.5 L860.1,704.7 L864.1,704.8 L868.1,705.0 L872.1,705.2 L876.1,705.3 L880.1,705.5 L884.1,705.7 L888.1,706.0 L892.1,706.2 L896.1,706.5 L900.1,706.8 L904.1,707.1 L908.1,707.5 L912.1,707.9 L916.0,708.3 L920.0,708.7 L924.0,709.1 L928.0,709.6 L932.0,710.1 L935.9,710.5 L939.9,711.1 L943.9,711.6 L947.8,712.2 L951.8,712.7 L955.7,713.3 L959.7,714.0 L963.6,714.6 L967.6,715.3 L971.5,716.0 L975.5,716.7 L979.4,717.4 L983.3,718.2 L987.3,718.9 L991.2,719.7 L995.1,720.5 L999.1,721.3 L1003.0,722.1 L1006.9,722.9 L1010.8,723.7 L1014.7,724.5 L1018.7,725.4 L1022.6,726.2 L1026.5,727.0 L1030.4,727.8 L1034.3,728.7 L1038.2,729.5 L1042.1,730.4 L1046.0,731.3 L1049.9,732.2 L1053.8,733.1 L1057.7,734.0 L1061.6,735.0 L1065.5,736.0 L1069.3,737.0 L1073.2,738.1 L1077.0,739.3 L1080.8,740.5 L1084.6,741.7 L1088.4,743.0 L1092.1,744.4 L1095.8,745.9 L1099.5,747.4 L1103.2,748.9 L1106.8,750.6 L1110.5,752.3 L1114.0,754.0 L1117.6,755.8 L1121.2,757.6 L1124.7,759.5 L1128.2,761.5 L1131.6,763.5 L1135.1,765.5 L1138.5,767.5 L1141.9,769.6 L1145.3,771.7 L1148.7,773.9 L1152.1,776.0 L1155.4,778.2 L1158.7,780.5 L1162.0,782.8 L1165.2,785.1 L1168.4,787.5 L1171.5,789.9 L1174.6,792.4 L1177.7,795.0 L1180.8,797.6 L1183.8,800.2 L1186.7,802.9 L1189.7,805.6 L1192.6,808.3 L1195.6,811.0 L1198.5,813.7 L1201.4,816.5 L1204.3,819.3 L1207.1,822.1 L1210.0,824.8 L1212.9,827.7 L1215.7,830.5 L1218.5,833.3 L1221.3,836.2 L1224.1,839.1 L1226.8,842.0 L1229.5,844.9 L1232.2,847.9 L1234.9,850.9 L1237.5,853.9 L1240.2,856.9 L1242.8,859.9 L1245.4,863.0 L1247.9,866.1 L1250.5,869.1 L1253.0,872.2 L1255.5,875.3 L1258.1,878.4 L1260.6,881.5 L1263.1,884.7 L1265.6,887.8 L1268.1,890.9 L1270.7,894.0 L1273.2,897.1 L1275.7,900.2 L1278.2,903.4 L1280.7,906.5 L1283.1,909.6 L1285.6,912.8 L1288.0,916.0 L1290.5,919.1 L1292.9,922.3 L1295.4,925.5 L1297.8,928.7 L1300.2,931.9 L1302.6,935.0 L1305.1,938.2 L1307.5,941.4 L1309.9,944.6 L1312.4,947.8 L1314.8,950.9 L1317.3,954.1 L1319.8,957.2 L1322.2,960.4 L1324.7,963.5 L1327.2,966.7 L1329.7,969.8 L1332.2,972.9 L1334.7,976.0 L1337.3,979.1 L1339.8,982.2 L1342.3,985.3 L1344.9,988.4 L1347.4,991.5 L1349.9,994.6 L1352.5,997.7 L1355.0,1000.8 L1357.5,1003.9 L1360.1,1007.0 L1362.6,1010.2 L1365.1,1013.3 L1367.6,1016.4 L1370.0,1019.6 L1372.5,1022.7 L1375.0,1025.9 L1377.5,1029.0 L1380.0,1032.1 L1382.7,1035.1 L1385.4,1037.9 L1388.3,1040.7 L1391.3,1043.2 L1394.5,1045.5 L1397.9,1047.6 L1401.4,1049.5 L1404.9,1051.4 L1408.5,1053.1 L1412.1,1054.7 L1415.8,1056.1 L1419.6,1057.3 L1423.5,1058.3 L1427.3,1059.2 L1431.3,1059.9 L1435.2,1060.6 L1439.1,1061.3 L1443.1,1062.0 L1447.0,1062.6 L1451.0,1063.2 L1455.0,1063.7 L1459.0,1064.1 L1462.9,1064.5 L1466.9,1064.8 L1470.9,1065.1 L1474.9,1065.3 L1478.9,1065.5 L1482.9,1065.8 L1486.9,1066.0 L1490.9,1066.2 L1494.9,1066.4 L1498.9,1066.5 L1502.9,1066.7 L1506.9,1066.8 L1508.9,1066.9" stroke="#00f"/>
<path d="M1497.0,222.0 L1490.0,236.0 L1512.0,233.0 L1524.0,250.0 L1520.0,258.0 L1451.0,273.0 L1508.0,294.0 L1437.0,305.0 L1439.0,318.2 L1507.8,329.7 L1424.0,340.9 L1531.7,362.9 L1483.9,366.2 L1487.7,375.5 L1515.8,389.6 L1544.8,393.8 L1542.9,397.1 L1520.0,413.9 L1473.6,415.8 L1420.4,421.1 L1373.6,426.2 L1349.0,428.0 L1347.0,431.0 L1349.8,437.5 L1356.8,446.8 L1369.9,456.2 L1380.2,465.5 L1384.4,474.9 L1388.6,484.3 L1390.0,489.0 L1383.0,494.0 L1375.0,503.0 L1373.9,506.8 L1372.7,510.6 L1371.2,514.3 L1369.4,518.0 L1367.7,521.5 L1365.9,525.1 L1364.0,528.6 L1361.8,531.9 L1359.3,535.1 L1356.7,538.1 L1354.1,541.1 L1351.4,544.1 L1348.7,547.0 L1345.8,549.7 L1342.7,552.2 L1339.5,554.6 L1336.3,557.0 L1333.0,559.3 L1329.7,561.5 L1326.4,563.8 L1323.0,565.9 L1319.6,568.1 L1316.2,570.2 L1312.8,572.3 L1309.4,574.4 L1306.0,576.4 L1302.6,578.5 L1299.1,580.6 L1295.7,582.6 L1292.3,584.7 L1288.8,586.7 L1285.4,588.8 L1282.0,590.8 L1278.5,592.9 L1275.1,594.9 L1271.6,597.0 L1268.2,599.0 L1264.7,601.0 L1261.3,603.1 L1257.8,605.1 L1254.4,607.1 L1250.9,609.1 L1247.5,611.1 L1244.0,613.1 L1240.5,615.1 L1237.0,617.1 L1233.6,619.1 L1230.1,621.1 L1226.6,623.0 L1223.1,625.0 L1219.6,626.9 L1216.1,628.9 L1212.6,630.8 L1209.1,632.7 L1205.6,634.6 L1202.0,636.5 L1198.5,638.4 L1195.0,640.3 L1191.4,642.1 L1187.9,644.0 L1184.3,645.8 L1180.7,647.5 L1177.1,649.3 L1173.5,651.0 L1169.9,652.6 L1166.2,654.3 L1162.6,655.9 L1158.9,657.4 L1155.2,659.0 L1151.5,660.5 L1147.8,662.0 L1144.1,663.5 L1140.3,664.9 L1136.6,666.4 L1132.9,667.8 L1129.1,669.1 L1125.3,670.4 L1121.5,671.7 L1117.7,672.9 L1113.9,674.1 L1110.1,675.3 L1106.2,676.4 L1102.4,677.4 L1098.5,678.5 L1094.7,679.5 L1090.8,680.5 L1086.9,681.4 L1083.0,682.4 L1079.1,683.3 L1075.2,684.3 L1071.3,685.2 L1067.5,686.2 L1063.6,687.1 L1059.7,688.1 L1055.8,689.0 L1051.9,689.9 L1048.0,690.9 L1044.1,691.8 L1040.2,692.7 L1036.3,693.6 L1032.4,694.6 L1028.5,695.5 L1024.6,696.4 L1020.7,697.2 L1016.8,698.1 L1012.9,698.9 L1009.0,699.8 L1005.1,700.5 L1001.1,701.3 L997.2,702.1 L993.3,702.8 L989.3,703.5 L985.4,704.2 L981.4,704.9 L977.5,705.6 L973.6,706.2 L969.6,706.9 L965.6,707.5 L961.7,708.0 L957.7,708.6 L953.8,709.2 L949.8,709.7 L945.8,710.2 L941.9,710.7 L937.9,711.1 L933.9,711.6 L929.9,712.0 L925.9,712.4 L922.0,712.8 L918.0,713.2 L914.0,713.6 L910.0,713.9 L906.0,714.2 L902.0,714.5 L898.0,714.8 L894.0,715.1 L890.0,715.3 L886.1,715.5 L882.1,715.7 L878.1,715.9 L874.1,716.1 L870.1,716.2 L866.1,716.4 L862.1,716.5 L858.1,716.7 L854.1,716.8 L850.1,716.9 L846.1,717.1 L842.1,717.2 L838.1,717.3 L834.1,717.4 L830.1,717.6 L826.1,717.7 L822.0,717.8 L818.0,717.9 L814.0,718.0 L810.0,718.1 L806.0,718.3 L802.0,718.4 L798.0,718.5 L794.0,718.6 L790.0,718.7 L786.0,718.8 L782.0,718.9 L778.0,719.0 L774.0,719.1 L770.0,719.1 L766.0,719.2 L762.0,719.3 L758.0,719.4 L754.0,719.5 L750.0,719.5 L746.0,719.6 L742.0,719.7 L738.0,719.8 L734.0,719.9 L730.0,719.9 L726.0,720.0 L722.0,720.1 L718.0,720.2 L714.0,720.3 L710.0,720.3 L706.0,720.4 L702.0,720.5 L698.0,720.5 L694.0,720.6 L690.0,720.6 L686.0,720.7 L682.0,720.7 L678.0,720.7 L674.0,720.8 L670.0,720.8 L666.0,720.8 L662.0,720.8 L658.0,720.8 L654.0,720.8 L650.0,720.9 L646.0,720.9 L641.9,720.9 L637.9,720.9 L633.9,720.9 L629.9,720.9 L625.9,720.9 L621.9,720.9 L617.9,720.9 L613.9,721.0 L609.9,721.0 L605.9,721.0 L601.9,721.0 L597.9,721.0 L593.9,721.0 L589.9,721.0 L585.9,721.0 L581.9,721.0 L577.9,721.0 L573.9,721.0 L569.9,721.0 L565.9,721.0 L561.9,721.0 L557.9,721.0 L553.9,721.1 L549.9,721.1 L545.9,721.1 L541.9,721.1 L537.9,721.1 L533.9,721.1 L529.9,721.1 L525.9,721.1 L521.9,721.1 L517.9,721.1 L513.9,721.1 L509.8,721.1 L505.8,721.1 L501.8,721.1 L497.8,721.1 L493.8,721.1 L489.8,721.1 L485.8,721.1 L481.8,721.1 L477.8,721.1 L473.8,721.1 L469.8,721.1 L465.8,721.2 L461.8,721.2 L457.8,721.2 L453.8,721.2 L449.8,721.2 L445.8,721.2 L441.8,721.2 L437.8,721.2 L433.8,721.2 L429.8,721.2 L425.8,721.2 L421.8,721.2 L417.8,721.2 L413.8,721.2 L409.8,721.2 L405.8,721.2 L401.8,721.2 L397.8,721.2 L393.8,721.2 L389.8,721.2 L385.8,721.2 L381.8,721.2 L385.8,721.3 L389.8,721.3 L393.8,721.3 L397.8,721.3 L401.8,721.3 L405.8,721.3 L409.8,721.3 L413.8,721.3 L417.8,721.3 L421.8,721.3 L425.8,721.3 L429.8,721.3 L433.8,721.3 L437.8,721.3 L441.8,721.3 L445.8,721.3 L449.8,721.3 L453.8,721.3 L457.8,721.3 L461.8,721.3 L465.8,721.3 L469.8,721.4 L473.9,721.4 L477.9,721.4 L481.9,721.4 L485.9,721.4 L489.9,721.4 L493.9,721.4 L497.9,721.4 L501.9,721.4 L505.9,721.4 L509.9,721.4 L513.9,721.4 L517.9,721.4 L521.9,721.4 L525.9,721.4 L529.9,721.4 L533.9,721.4 L537.9,721.4 L541.9,721.4 L545.9,721.4 L549.9,721.4 L553.9,721.4 L557.9,721.5 L561.9,721.5 L566.0,721.5 L570.0,721.5 L574.0,721.5 L578.0,721.5 L582.0,721.5 L586.0,721.5 L590.0,721.5 L594.0,721.5 L598.0,721.5 L602.0,721.5 L606.0,721.5 L610.0,721.5 L614.0,721.5 L618.0,721.6 L622.0,721.6 L626.0,721.6 L630.0,721.6 L634.0,721.6 L638.0,721.6 L642.0,721.6 L646.0,721.6 L650.0,721.6 L654.0,721.7 L658.1,721.7 L662.1,721.7 L666.1,721.7 L670.1,721.7 L674.1,721.7 L678.1,721.8 L682.1,721.8 L686.1,721.9 L690.1,721.9 L694.1,722.0 L698.1,722.0 L702.1,722.1 L706.1,722.2 L710.1,722.3 L714.1,722.4 L718.1,722.5 L722.1,722.6 L726.1,722.7 L730.1,722.8 L734.1,722.9 L738.1,723.0 L742.1,723.1 L746.1,723.2 L750.1,723.3 L754.1,723.4 L758.1,723.5 L762.1,723.6 L766.1,723.7 L770.2,723.8 L774.2,723.9 L778.2,724.0 L782.2,724.1 L786.2,724.2 L790.2,724.3 L794.2,724.4 L798.2,724.5 L802.2,724.6 L806.2,724.7 L810.2,724.9 L814.2,725.0 L818.2,725.1 L822.2,725.2 L826.2,725.3 L830.2,725.4 L834.2,725.6 L838.2,725.7 L842.2,725.8 L846.2,725.9 L850.2,726.1 L854.2,726.2 L858.2,726.3 L862.2,726.5 L866.2,726.6 L870.2,726.8 L874.2,726.9 L878.2,727.1 L882.2,727.3 L886.2,727.5 L890.2,727.8 L894.2,728.0 L898.2,728.3 L902.2,728.6 L906.2,729.0 L910.1,729.4 L914.1,729.8 L918.1,730.2 L922.1,730.7 L926.0,731.2 L930.0,731.8 L934.0,732.3 L937.9,732.9 L941.9,733.5 L945.8,734.2 L949.8,734.8 L953.7,735.6 L957.6,736.3 L961.5,737.1 L965.4,738.0 L969.3,738.8 L973.2,739.8 L977.1,740.7 L981.0,741.7 L984.9,742.8 L988.7,743.8 L992.6,744.9 L996.4,746.0 L1000.2,747.1 L1004.1,748.3 L1007.9,749.5 L1011.7,750.7 L1015.5,752.0 L1019.2,753.3 L1023.0,754.7 L1026.8,756.1 L1030.5,757.5 L1034.2,759.0 L1037.9,760.5 L1041.6,762.1 L1045.2,763.7 L1048.9,765.3 L1052.5,767.0 L1056.1,768.7 L1059.7,770.5 L1063.3,772.3 L1066.8,774.2 L1070.3,776.1 L1073.8,778.0 L1077.3,780.0 L1080.7,782.0 L1084.1,784.1 L1087.5,786.2 L1090.8,788.4 L1094.1,790.7 L1097.3,793.0 L1100.5,795.4 L1103.7,797.8 L1106.8,800.3 L1109.8,802.9 L1112.8,805.5 L1115.8,808.1 L1118.7,810.9 L1121.5,813.6 L1124.3,816.5 L1127.1,819.4 L1129.8,822.3 L1132.4,825.3 L1135.0,828.3 L1137.6,831.4 L1140.2,834.4 L1142.7,837.5 L1145.2,840.6 L1147.7,843.8 L1150.2,846.9 L1152.6,850.1 L1155.0,853.3 L1157.3,856.6 L1159.6,859.8 L1161.8,863.2 L1164.0,866.5 L1166.1,869.9 L1168.2,873.3 L1170.2,876.7 L1172.2,880.2 L1174.1,883.7 L1175.9,887.2 L1177.8,890.8 L1179.5,894.4 L1181.3,898.0 L1183.0,901.6 L1184.7,905.2 L1186.4,908.8 L1188.1,912.4 L1189.9,916.0 L1191.6,919.6 L1193.4,923.2 L1195.2,926.7 L1197.1,930.3 L1199.0,933.8 L1200.9,937.3 L1202.8,940.8 L1204.7,944.3 L1206.6,947.8 L1208.5,951.3 L1210.4,954.9 L1212.2,958.4 L1213.9,962.0 L1215.7,965.6 L1217.3,969.2 L1219.0,972.9 L1220.6,976.5 L1222.2,980.2 L1223.7,983.9 L1225.2,987.6 L1226.8,991.3 L1228.3,995.0 L1229.8,998.7 L1231.4,1002.4 L1233.0,1006.0 L1234.6,1009.7 L1236.3,1013.3 L1238.1,1016.9 L1239.9,1020.4 L1241.8,1023.9 L1243.7,1027.4 L1245.8,1030.8 L1247.9,1034.2 L1250.1,1037.5 L1252.3,1040.8 L1254.6,1044.0 L1257.0,1047.2 L1259.5,1050.4 L1262.0,1053.5 L1264.5,1056.5 L1267.1,1059.5 L1269.8,1062.5 L1272.5,1065.4 L1275.3,1068.3 L1278.1,1071.0 L1281.0,1073.8 L1283.9,1076.5 L1286.8,1079.2 L1289.9,1081.7 L1293.0,1084.2 L1296.2,1086.6 L1299.4,1088.9 L1302.8,1091.1 L1306.2,1093.1 L1309.7,1095.1 L1313.2,1097.0 L1316.8,1098.7 L1320.4,1100.4 L1324.1,1101.9 L1327.8,1103.4 L1331.6,1104.7 L1335.4,1106.0 L1339.2,1107.3 L1343.0,1108.5 L1346.8,1109.6 L1350.7,1110.7 L1354.6,1111.5 L1358.5,1112.3 L1362.4,1113.0 L1366.4,1113.6 L1370.3,1114.3 L1374.2,1115.0 L1378.2,1115.5 L1382.1,1116.1 L1386.1,1116.6 L1390.1,1117.0 L1394.1,1117.4 L1398.1,1117.8 L1402.0,1118.1 L1406.0,1118.4 L1410.0,1118.7 L1414.0,1119.0 L1418.0,1119.2 L1422.0,1119.5 L1426.0,1119.7 L1428.0,1119.8" stroke="#f0f"/>
<path d="M1491.4,208.3 L1501.7,210.1 L1508.7,215.3 L1510.1,220.0 L1507.8,226.0 L1515.8,227.5 L1519.5,234.0 L1519.0,238.2 L1527.0,239.2 L1530.3,244.3 L1530.7,253.7 L1528.4,261.2 L1522.3,264.9 L1511.1,265.8 L1507.8,270.5 L1491.4,272.9 L1485.8,276.1 L1485.8,278.0 L1498.9,279.4 L1502.7,286.4 L1512.0,287.2 L1514.8,290.2 L1514.8,297.7 L1511.1,301.0 L1466.1,301.0 L1464.7,306.1 L1459.6,308.9 L1452.1,309.9 L1452.1,311.7 L1470.8,313.1 L1474.1,315.9 L1504.5,318.0 L1509.2,322.2 L1514.8,325.4 L1514.8,332.5 L1511.1,335.7 L1487.7,337.2 L1479.3,341.4 L1469.0,344.6 L1487.7,348.4 L1498.0,351.7 L1519.5,353.1 L1534.5,355.9 L1538.2,359.6 L1538.7,364.3 L1536.4,368.5 L1523.3,369.9 L1520.0,374.1 L1520.0,381.2 L1527.0,381.2 L1531.7,385.8 L1548.5,387.0 L1551.8,390.5 L1551.8,397.1 L1548.1,399.9 L1546.7,406.4 L1539.2,408.8 L1526.1,410.7 L1527.0,413.0 L1524.2,418.6 L1517.6,421.0 L1498.9,421.4 L1473.6,423.3 L1480.2,408.3 L1498.9,407.8 L1505.9,406.9 L1507.3,403.6 L1511.1,399.9 L1505.0,396.6 L1504.1,392.4 L1496.1,387.7 L1495.2,384.0 L1483.9,382.6 L1480.7,379.8 L1479.3,375.5 L1479.7,372.7 L1477.4,369.9 L1476.4,365.2 L1477.8,361.0 L1466.1,358.2 L1454.9,357.8 L1438.1,355.9 L1433.8,353.1 L1432.0,348.9 L1421.2,347.9 L1417.0,341.8 L1417.5,339.0 L1420.3,334.8 L1425.9,332.5 L1431.5,331.1 L1454.0,330.4 L1467.1,329.5 L1459.6,327.3 L1454.0,326.9 L1444.6,325.4 L1437.1,324.8 L1432.4,319.4 L1432.0,311.7 L1430.1,308.4 L1430.1,301.4 L1433.4,298.1 L1440.9,296.7 L1445.5,291.1 L1453.0,288.3 L1462.9,286.9 L1461.5,285.0 L1452.1,283.6 L1445.5,279.0 L1444.1,274.3 L1444.6,270.5 L1447.4,267.7 L1460.5,266.3 L1473.6,264.9 L1474.6,262.1 L1485.8,259.8 L1487.2,256.9 L1496.1,252.7 L1496.1,248.1 L1483.9,246.2 L1479.7,242.0 L1479.3,238.7 L1482.1,234.0 L1483.0,221.8 L1483.9,218.1 L1482.1,214.3 L1486.7,213.9 L1490.0,211.5Z" fill="#f0f" stroke="none"/>
<path d="M2043.6,305.0 L2042.4,308.8 L2041.3,312.7 L2040.2,316.5 L2039.0,320.3 L2037.9,324.2 L2036.8,328.0 L2035.7,331.9 L2034.6,335.7 L2033.5,339.6 L2032.4,343.4 L2031.3,347.3 L2030.2,351.1 L2029.1,355.0 L2028.0,358.8 L2026.9,362.6 L2025.7,366.5 L2024.6,370.3 L2023.4,374.1 L2022.1,377.9 L2020.9,381.7 L2019.6,385.5 L2018.2,389.3 L2016.9,393.0 L2015.5,396.8 L2014.0,400.5 L2012.5,404.2 L2011.0,407.9 L2009.4,411.5 L2007.8,415.2 L2006.1,418.8 L2004.4,422.4 L2002.7,426.0 L2000.9,429.6 L1999.2,433.2 L1997.3,436.8 L1995.5,440.3 L1993.7,443.9 L1991.8,447.4 L1989.9,450.9 L1988.0,454.5 L1986.1,458.0 L1984.2,461.5 L1982.2,465.0 L1980.3,468.5 L1978.3,472.0 L1976.3,475.4 L1974.3,478.9 L1972.2,482.3 L1970.2,485.7 L1968.0,489.1 L1965.9,492.5 L1963.7,495.8 L1961.4,499.1 L1959.1,502.3 L1956.8,505.6 L1954.4,508.8 L1952.0,512.0 L1949.5,515.1 L1947.0,518.2 L1944.5,521.3 L1941.9,524.4 L1939.4,527.5 L1936.8,530.5 L1934.2,533.6 L1931.6,536.6 L1929.0,539.6 L1926.4,542.7 L1923.8,545.7 L1921.2,548.8 L1918.7,551.9 L1916.1,554.9 L1913.6,558.0 L1911.0,561.0 L1908.4,564.0 L1905.8,567.0 L1903.1,569.9 L1900.4,572.8 L1897.6,575.6 L1894.7,578.3 L1891.7,580.9 L1888.7,583.4 L1885.6,585.8 L1882.4,588.1 L1879.1,590.4 L1875.8,592.6 L1872.4,594.7 L1869.0,596.8 L1865.6,598.8 L1862.1,600.7 L1858.6,602.6 L1855.1,604.5 L1851.5,606.3 L1847.9,608.0 L1844.3,609.7 L1840.7,611.4 L1837.1,613.0 L1833.4,614.7 L1829.7,616.3 L1826.1,617.9 L1822.4,619.4 L1818.7,621.0 L1815.0,622.6 L1811.3,624.1 L1807.6,625.7 L1803.9,627.2 L1800.2,628.7 L1796.5,630.2 L1792.8,631.6 L1789.1,633.1 L1785.3,634.5 L1781.6,635.9 L1777.8,637.3 L1774.1,638.7 L1770.3,640.1 L1766.6,641.5 L1762.8,642.9 L1759.1,644.2 L1755.3,645.6 L1751.5,646.9 L1747.7,648.2 L1744.0,649.5 L1740.2,650.8 L1736.4,652.0 L1732.6,653.3 L1728.7,654.5 L1724.9,655.6 L1721.1,656.8 L1717.3,657.9 L1713.4,659.0 L1709.6,660.1 L1705.7,661.2 L1701.9,662.3 L1698.0,663.4 L1694.2,664.4 L1690.3,665.5 L1686.4,666.6 L1682.6,667.6 L1678.7,668.7 L1674.9,669.7 L1671.0,670.8 L1667.1,671.8 L1663.3,672.8 L1659.4,673.9 L1655.5,674.9 L1651.6,675.9 L1647.8,676.9 L1643.9,677.9 L1640.0,678.9 L1636.1,679.9 L1632.3,680.9 L1628.4,681.8 L1624.5,682.8 L1620.6,683.8 L1616.7,684.8 L1612.9,685.7 L1609.0,686.7 L1605.1,687.6 L1601.2,688.5 L1597.3,689.4 L1593.4,690.3 L1589.5,691.2 L1585.6,692.0 L1581.7,692.9 L1577.7,693.7 L1573.8,694.5 L1569.9,695.3 L1566.0,696.2 L1562.1,697.0 L1558.2,697.8 L1554.2,698.6 L1550.3,699.4 L1546.4,700.2 L1542.5,701.0 L1538.6,701.8 L1534.6,702.6 L1530.7,703.3 L1526.8,704.1 L1522.9,704.9 L1518.9,705.7 L1515.0,706.4 L1511.1,707.2 L1507.1,707.9 L1503.2,708.7 L1499.3,709.4 L1495.3,710.1 L1491.4,710.8 L1487.4,711.5 L1483.5,712.2 L1479.6,712.8 L1475.6,713.5 L1471.7,714.1 L1467.7,714.8 L1463.8,715.4 L1459.8,716.0 L1455.8,716.6 L1451.9,717.2 L1447.9,717.8 L1444.0,718.4 L1440.0,719.0 L1436.1,719.6 L1432.1,720.2 L1428.1,720.8 L1424.2,721.4 L1420.2,722.0 L1416.3,722.6 L1412.3,723.1 L1408.4,723.7 L1404.4,724.3 L1400.4,724.9 L1396.5,725.5 L1392.5,726.1 L1388.6,726.6 L1384.6,727.2 L1380.6,727.8 L1376.7,728.4 L1372.7,728.9 L1368.8,729.5 L1364.8,730.1 L1360.8,730.7 L1356.9,731.2 L1352.9,731.8 L1349.0,732.4 L1345.0,733.0 L1341.0,733.6 L1337.1,734.2 L1333.1,734.8 L1329.2,735.4 L1325.2,736.0 L1321.3,736.7 L1317.3,737.3 L1313.4,737.9 L1309.4,738.6 L1305.5,739.2 L1301.5,739.9 L1297.6,740.5 L1293.6,741.1 L1289.7,741.8 L1285.7,742.5 L1281.8,743.1 L1277.8,743.8 L1273.9,744.5 L1269.9,745.1 L1266.0,745.8 L1262.1,746.5 L1258.1,747.2 L1254.2,747.9 L1250.2,748.6 L1246.3,749.3 L1242.4,750.0 L1238.4,750.8 L1234.5,751.5 L1230.6,752.2 L1226.6,753.0 L1222.7,753.8 L1218.8,754.6 L1214.9,755.4 L1211.0,756.3 L1207.1,757.2 L1203.3,758.2 L1199.4,759.3 L1195.6,760.4 L1191.8,761.6 L1188.0,762.8 L1184.2,764.1 L1180.5,765.5 L1176.7,766.9 L1173.0,768.3 L1169.3,769.8 L1165.6,771.3 L1161.9,772.8 L1158.2,774.4 L1154.5,775.9 L1150.9,777.5 L1147.2,779.1 L1143.5,780.7 L1139.9,782.3 L1136.2,784.0 L1132.6,785.6 L1128.9,787.2 L1125.3,788.9 L1121.6,790.5 L1118.0,792.2 L1114.3,793.9 L1110.7,795.5 L1107.0,797.2 L1103.4,798.9 L1099.8,800.5 L1096.1,802.2 L1092.5,803.9 L1088.9,805.6 L1085.2,807.2 L1081.6,808.9 L1077.9,810.5 L1074.3,812.1 L1070.6,813.8 L1067.0,815.3 L1063.3,816.9 L1059.6,818.4 L1055.9,819.8 L1052.1,821.3 L1048.4,822.6 L1044.6,823.9 L1040.8,825.2 L1037.0,826.4 L1033.2,827.6 L1029.4,828.7 L1025.5,829.7 L1021.6,830.7 L1017.8,831.7 L1013.9,832.5 L1010.0,833.4 L1006.0,834.2 L1002.1,834.9 L998.2,835.6 L994.2,836.3 L990.3,837.0 L986.3,837.6 L982.4,838.2 L978.4,838.8 L974.5,839.3 L970.5,839.9 L966.6,840.4 L962.6,841.0 L958.6,841.5 L954.7,842.1 L950.7,842.6 L946.7,843.2 L942.8,843.7 L938.8,844.2 L934.8,844.8 L930.9,845.3 L926.9,845.8 L922.9,846.3 L919.0,846.8 L915.0,847.3 L911.0,847.7 L907.0,848.2 L903.1,848.6 L899.1,849.0 L895.1,849.3 L891.1,849.6 L887.1,849.9 L883.1,850.2 L879.1,850.4 L875.1,850.6 L871.1,850.8 L867.1,851.0 L863.1,851.2 L859.2,851.3 L855.2,851.4 L851.2,851.6 L847.2,851.7 L843.2,851.8 L839.2,851.9 L835.2,852.0 L831.2,852.1 L827.2,852.3 L823.2,852.4 L819.1,852.5 L815.1,852.6 L811.1,852.7 L807.1,852.8 L803.1,852.9 L799.1,853.0 L795.1,853.1 L791.1,853.2 L787.1,853.3 L783.1,853.4 L779.1,853.4 L775.1,853.5 L771.1,853.6 L767.1,853.7 L763.1,853.8 L759.1,853.9 L755.1,853.9 L751.1,854.0 L747.1,854.1 L743.1,854.2 L739.1,854.3 L735.1,854.3 L731.1,854.4 L727.1,854.5 L723.1,854.6 L719.1,854.7 L715.1,854.7 L711.1,854.8 L707.1,854.9 L703.1,854.9 L699.1,855.0 L695.1,855.1 L691.1,855.1 L687.1,855.2 L683.1,855.2 L679.1,855.2 L675.1,855.3 L671.1,855.3 L667.1,855.3 L663.1,855.3 L659.1,855.3 L655.1,855.3 L651.1,855.4 L647.1,855.4 L643.1,855.4 L639.1,855.4 L635.1,855.4 L631.1,855.4 L627.1,855.4 L623.1,855.4 L619.1,855.4 L615.1,855.5 L611.1,855.5 L607.1,855.5 L603.1,855.5 L599.1,855.5 L595.1,855.5 L591.1,855.5 L587.1,855.5 L583.1,855.5 L579.1,855.5 L575.1,855.5 L571.1,855.5 L567.1,855.6 L563.1,855.6 L559.1,855.6 L555.1,855.6 L551.1,855.6 L547.0,855.6 L543.0,855.6 L539.0,855.6 L535.0,855.6 L531.0,855.6 L527.0,855.6 L523.0,855.6 L519.0,855.6 L515.0,855.6 L511.0,855.6 L507.0,855.6 L503.0,855.7 L499.0,855.7 L495.0,855.7 L491.0,855.7 L487.0,855.7 L483.0,855.7 L479.0,855.7 L475.0,855.7 L471.0,855.7 L467.0,855.7 L463.0,855.7 L459.0,855.7 L455.0,855.7 L451.0,855.7 L447.0,855.7 L443.0,855.7 L447.0,855.8 L451.0,855.8 L455.0,855.8 L459.0,855.8 L463.0,855.8 L467.0,855.8 L471.0,855.8 L475.0,855.8 L479.0,855.8 L483.0,855.8 L487.0,855.8 L491.0,855.8 L495.0,855.8 L499.1,855.8 L503.1,855.8 L507.1,855.9 L511.1,855.9 L515.1,855.9 L519.1,855.9 L523.1,855.9 L527.1,855.9 L531.1,855.9 L535.1,855.9 L539.1,855.9 L543.1,855.9 L547.1,855.9 L551.1,855.9 L555.1,855.9 L559.1,855.9 L563.1,855.9 L567.1,855.9 L571.1,856.0 L575.1,856.0 L579.1,856.0 L583.1,856.0 L587.1,856.0 L591.1,856.0 L595.1,856.0 L599.1,856.0 L603.2,856.0 L607.2,856.0 L611.2,856.0 L615.2,856.0 L619.2,856.1 L623.2,856.1 L627.2,856.1 L631.2,856.1 L635.2,856.1 L639.2,856.1 L643.2,856.1 L647.2,856.1 L651.2,856.1 L655.2,856.2 L659.2,856.2 L663.2,856.2 L667.2,856.2 L671.2,856.2 L675.2,856.2 L679.2,856.3 L683.2,856.3 L687.2,856.3 L691.2,856.4 L695.2,856.4 L699.2,856.5 L703.2,856.5 L707.2,856.6 L711.3,856.6 L715.3,856.7 L719.3,856.8 L723.3,856.8 L727.3,856.9 L731.3,857.0 L735.3,857.0 L739.3,857.1 L743.3,857.2 L747.3,857.3 L751.3,857.3 L755.3,857.4 L759.3,857.5 L763.3,857.5 L767.3,857.6 L771.3,857.7 L775.3,857.8 L779.3,857.9 L783.3,857.9 L787.3,858.0 L791.3,858.1 L795.3,858.2 L799.3,858.4 L803.3,858.5 L807.3,858.6 L811.3,858.7 L815.3,858.8 L819.3,859.0 L823.3,859.1 L827.3,859.2 L831.3,859.4 L835.3,859.5 L839.3,859.6 L843.3,859.8 L847.3,859.9 L851.3,860.0 L855.3,860.2 L859.3,860.4 L863.3,860.5 L867.3,860.7 L871.3,860.9 L875.3,861.1 L879.3,861.4 L883.3,861.6 L887.3,861.9 L891.3,862.2 L895.3,862.5 L899.3,862.8 L903.3,863.2 L907.3,863.5 L911.2,863.9 L915.2,864.3 L919.2,864.6 L923.2,865.0 L927.2,865.4 L931.2,865.8 L935.2,866.3 L939.1,866.7 L943.1,867.1 L947.1,867.5 L951.1,867.9 L955.1,868.3 L959.0,868.7 L963.0,869.2 L967.0,869.6 L971.0,870.0 L975.0,870.5 L978.9,870.9 L982.9,871.4 L986.9,871.9 L990.8,872.4 L994.8,873.0 L998.8,873.6 L1002.7,874.2 L1006.6,874.9 L1010.6,875.6 L1014.5,876.4 L1018.4,877.1 L1022.4,877.9 L1026.3,878.7 L1030.2,879.5 L1034.1,880.4 L1038.0,881.2 L1041.9,882.1 L1045.8,883.0 L1049.7,883.8 L1053.7,884.7 L1057.6,885.6 L1061.5,886.5 L1065.4,887.4 L1069.2,888.3 L1073.1,889.3 L1077.0,890.2 L1080.9,891.2 L1084.8,892.2 L1088.6,893.2 L1092.5,894.3 L1096.3,895.4 L1100.1,896.6 L1103.9,897.8 L1107.7,899.1 L1111.5,900.4 L1115.3,901.7 L1119.0,903.2 L1122.7,904.6 L1126.4,906.1 L1130.1,907.6 L1133.8,909.2 L1137.4,910.8 L1141.1,912.5 L1144.6,914.3 L1148.2,916.0 L1151.7,917.9 L1155.2,919.8 L1158.7,921.8 L1162.1,923.9 L1165.4,926.0 L1168.8,928.2 L1172.0,930.5 L1175.2,932.8 L1178.4,935.2 L1181.5,937.7 L1184.6,940.2 L1187.6,942.8 L1190.6,945.5 L1193.5,948.2 L1196.3,951.0 L1199.1,953.8 L1201.8,956.7 L1204.4,959.7 L1207.0,962.7 L1209.5,965.8 L1211.9,969.0 L1214.2,972.2 L1216.5,975.5 L1218.7,978.8 L1220.9,982.1 L1223.0,985.5 L1225.0,988.9 L1227.1,992.3 L1229.1,995.8 L1231.2,999.2 L1233.2,1002.6 L1235.3,1006.1 L1237.4,1009.5 L1239.5,1012.8 L1241.7,1016.2 L1243.9,1019.6 L1246.1,1022.9 L1248.3,1026.2 L1250.6,1029.5 L1252.8,1032.8 L1255.1,1036.1 L1257.4,1039.4 L1259.8,1042.6 L1262.1,1045.9 L1264.5,1049.1 L1266.9,1052.3 L1269.3,1055.5 L1271.7,1058.7 L1274.1,1061.9 L1276.6,1065.1 L1279.0,1068.2 L1281.5,1071.3 L1284.1,1074.4 L1286.7,1077.4 L1289.3,1080.4 L1291.9,1083.4 L1294.7,1086.3 L1297.4,1089.2 L1300.3,1091.9 L1303.2,1094.7 L1306.1,1097.4 L1309.1,1100.0 L1312.2,1102.6 L1315.2,1105.1 L1318.3,1107.6 L1321.5,1110.1 L1324.6,1112.5 L1327.8,1115.0 L1331.0,1117.4 L1334.2,1119.8 L1337.4,1122.2 L1340.6,1124.6 L1343.8,1127.0 L1347.1,1129.3 L1350.3,1131.6 L1353.6,1133.9 L1356.9,1136.2 L1360.2,1138.5 L1363.5,1140.7 L1366.9,1142.9 L1370.2,1145.1 L1373.6,1147.2 L1377.0,1149.3 L1380.4,1151.4 L1383.8,1153.5 L1387.3,1155.5 L1390.8,1157.4 L1394.3,1159.4 L1397.8,1161.2 L1401.3,1163.1 L1404.9,1164.8 L1408.5,1166.6 L1412.1,1168.3 L1415.7,1170.0 L1419.4,1171.6 L1423.0,1173.3 L1426.7,1174.9 L1430.4,1176.4 L1434.1,1178.0 L1437.8,1179.5 L1441.5,1181.0 L1445.2,1182.4 L1449.0,1183.8 L1452.7,1185.2 L1456.5,1186.5 L1460.3,1187.7 L1464.1,1189.0 L1467.9,1190.2 L1471.8,1191.3 L1475.6,1192.5 L1479.4,1193.5 L1483.3,1194.6 L1487.2,1195.6 L1491.0,1196.6 L1494.9,1197.6 L1498.8,1198.5 L1502.7,1199.4 L1506.6,1200.2 L1510.5,1201.0 L1514.5,1201.8 L1518.4,1202.5 L1522.3,1203.1 L1526.3,1203.8 L1530.2,1204.3 L1534.2,1204.9 L1538.2,1205.4 L1542.1,1205.8 L1546.1,1206.3 L1550.1,1206.7 L1554.1,1207.1 L1558.1,1207.5 L1562.0,1207.9 L1566.0,1208.2 L1570.0,1208.5 L1574.0,1208.8 L1578.0,1209.1 L1582.0,1209.4 L1586.0,1209.6 L1590.0,1209.8 L1594.0,1210.0 L1598.0,1210.2 L1602.0,1210.3 L1606.0,1210.4 L1610.0,1210.6 L1614.0,1210.7 L1618.0,1210.8 L1622.0,1210.9 L1624.0,1210.9" stroke="#008000"/>
</g>
<g shape-rendering="crispEdges">
<rect x="288" y="40" width="452" height="422" fill="none" stroke="#000" stroke-width="2"/>
<rect x="282" y="36" width="6" height="1324" fill="#000"/>
<rect x="2063" y="36" width="6" height="1324" fill="#000"/>
<rect x="271" y="36" width="1798" height="6" fill="#000"/>
<rect x="271" y="1354" width="1798" height="6" fill="#000"/>
<rect x="259" y="118" width="23" height="6" fill="#000"/>
<rect x="271" y="201" width="11" height="6" fill="#000"/>
<rect x="259" y="283" width="23" height="6" fill="#000"/>
<rect x="271" y="365" width="11" height="6" fill="#000"/>
<rect x="259" y="448" width="23" height="6" fill="#000"/>
<rect x="271" y="530" width="11" height="6" fill="#000"/>
<rect x="259" y="613" width="23" height="6" fill="#000"/>
<rect x="271" y="695" width="11" height="6" fill="#000"/>
<rect x="259" y="778" width="23" height="6" fill="#000"/>
<rect x="271" y="860" width="11" height="6" fill="#000"/>
<rect x="259" y="943" width="23" height="6" fill="#000"/>
<rect x="271" y="1025" width="11" height="6" fill="#000"/>
<rect x="259" y="1108" width="23" height="6" fill="#000"/>
<rect x="271" y="1190" width="11" height="6" fill="#000"/>
<rect x="259" y="1272" width="23" height="6" fill="#000"/>
<rect x="282" y="1357" width="6" height="26" fill="#000"/>
<rect x="349" y="1357" width="6" height="13" fill="#000"/>
<rect x="388" y="1357" width="6" height="13" fill="#000"/>
<rect x="416" y="1357" width="6" height="13" fill="#000"/>
<rect x="438" y="1357" width="6" height="13" fill="#000"/>
<rect x="455" y="1357" width="6" height="13" fill="#000"/>
<rect x="470" y="1357" width="6" height="13" fill="#000"/>
<rect x="483" y="1357" width="6" height="13" fill="#000"/>
<rect x="495" y="1357" width="6" height="13" fill="#000"/>
<rect x="505" y="1357" width="6" height="26" fill="#000"/>
<rect x="572" y="1357" width="6" height="13" fill="#000"/>
<rect x="611" y="1357" width="6" height="13" fill="#000"/>
<rect x="639" y="1357" width="6" height="13" fill="#000"/>
<rect x="660" y="1357" width="6" height="13" fill="#000"/>
<rect x="678" y="1357" width="6" height="13" fill="#000"/>
<rect x="693" y="1357" width="6" height="13" fill="#000"/>
<rect x="706" y="1357" width="6" height="13" fill="#000"/>
<rect x="717" y="1357" width="6" height="13" fill="#000"/>
<rect x="727" y="1357" width="6" height="26" fill="#000"/>
<rect x="794" y="1357" width="6" height="13" fill="#000"/>
<rect x="834" y="1357" width="6" height="13" fill="#000"/>
<rect x="861" y="1357" width="6" height="13" fill="#000"/>
<rect x="883" y="1357" width="6" height="13" fill="#000"/>
<rect x="901" y="1357" width="6" height="13" fill="#000"/>
<rect x="916" y="1357" width="6" height="13" fill="#000"/>
<rect x="928" y="1357" width="6" height="13" fill="#000"/>
<rect x="940" y="1357" width="6" height="13" fill="#000"/>
<rect x="950" y="1357" width="6" height="26" fill="#000"/>
<rect x="1017" y="1357" width="6" height="13" fill="#000"/>
<rect x="1056" y="1357" width="6" height="13" fill="#000"/>
<rect x="1084" y="1357" width="6" height="13" fill="#000"/>
<rect x="1106" y="1357" width="6" height="13" fill="#000"/>
<rect x="1123" y="1357" width="6" height="13" fill="#000"/>
<rect x="1138" y="1357" width="6" height="13" fill="#000"/>
<rect x="1151" y="1357" width="6" height="13" fill="#000"/>
<rect x="1162" y="1357" width="6" height="13" fill="#000"/>
<rect x="1173" y="1357" width="6" height="26" fill="#000"/>
<rect x="1240" y="1357" width="6" height="13" fill="#000"/>
<rect x="1279" y="1357" width="6" height="13" fill="#000"/>
<rect x="1307" y="1357" width="6" height="13" fill="#000"/>
<rect x="1328" y="1357" width="6" height="13" fill="#000"/>
<rect x="1346" y="1357" width="6" height="13" fill="#000"/>
<rect x="1361" y="1357" width="6" height="13" fill="#000"/>
<rect x="1374" y="1357" width="6" height="13" fill="#000"/>
<rect x="1385" y="1357" width="6" height="13" fill="#000"/>
<rect x="1395" y="1357" width="6" height="26" fill="#000"/>
<rect x="1462" y="1357" width="6" height="13" fill="#000"/>
<rect x="1501" y="1357" width="6" height="13" fill="#000"/>
<rect x="1529" y="1357" width="6" height="13" fill="#000"/>
<rect x="1551" y="1357" width="6" height="13" fill="#000"/>
<rect x="1568" y="1357" width="6" height="13" fill="#000"/>
<rect x="1583" y="1357" width="6" height="13" fill="#000"/>
<rect x="1596" y="1357" width="6" height="13" fill="#000"/>
<rect x="1607" y="1357" width="6" height="13" fill="#000"/>
<rect x="1618" y="1357" width="6" height="26" fill="#000"/>
<rect x="1685" y="1357" width="6" height="13" fill="#000"/>
<rect x="1724" y="1357" width="6" height="13" fill="#000"/>
<rect x="1752" y="1357" width="6" height="13" fill="#000"/>
<rect x="1773" y="1357" width="6" height="13" fill="#000"/>
<rect x="1791" y="1357" width="6" height="13" fill="#000"/>
<rect x="1806" y="1357" width="6" height="13" fill="#000"/>
<rect x="1819" y="1357" width="6" height="13" fill="#000"/>
<rect x="1830" y="1357" width="6" height="13" fill="#000"/>
<rect x="1840" y="1357" width="6" height="26" fill="#000"/>
<rect x="1907" y="1357" width="6" height="13" fill="#000"/>
<rect x="1946" y="1357" width="6" height="13" fill="#000"/>
<rect x="1974" y="1357" width="6" height="13" fill="#000"/>
<rect x="1996" y="1357" width="6" height="13" fill="#000"/>
<rect x="2013" y="1357" width="6" height="13" fill="#000"/>
<rect x="2028" y="1357" width="6" height="13" fill="#000"/>
<rect x="2041" y="1357" width="6" height="13" fill="#000"/>
<rect x="2053" y="1357" width="6" height="13" fill="#000"/>
<rect x="2063" y="1357" width="6" height="26" fill="#000"/>
</g>
<g shape-rendering="crispEdges">
<rect x="316" y="81" width="154" height="14" fill="#000"/>
<rect x="316" y="165" width="154" height="14" fill="#f00"/>
<rect x="316" y="249" width="154" height="14" fill="#00f"/>
<rect x="316" y="332" width="154" height="14" fill="#f0f"/>
<rect x="316" y="416" width="154" height="14" fill="#008000"/>
</g>
<g font-family="'Liberation Sans', Arial, Helvetica, sans-serif" fill="#000">
<text transform="translate(486.8,112) scale(1,1.04)" font-size="68" text-anchor="start" stroke="#000" stroke-width="0.34">AISI D2</text>
<text transform="translate(486.8,195) scale(1,1.04)" font-size="68" text-anchor="start" stroke="#000" stroke-width="0.34">M2</text>
<text transform="translate(486.8,279.5) scale(1,1.04)" font-size="68" text-anchor="start" stroke="#000" stroke-width="0.34">M1</text>
<text transform="translate(486.8,363) scale(1,1.04)" font-size="68" text-anchor="start" stroke="#000" stroke-width="0.34">M3</text>
<text transform="translate(486.8,446) scale(1,1.04)" font-size="68" text-anchor="start" stroke="#000" stroke-width="0.34">M4</text>
<text transform="translate(240.5,137.1) scale(1,1.04)" font-size="54.5" text-anchor="end" stroke="#000" stroke-width="0.27">0,2</text>
<text transform="translate(240.5,302.0) scale(1,1.04)" font-size="54.5" text-anchor="end" stroke="#000" stroke-width="0.27">0,0</text>
<text transform="translate(240.5,466.9) scale(1,1.04)" font-size="54.5" text-anchor="end" stroke="#000" stroke-width="0.27">-0,2</text>
<text transform="translate(240.5,631.8) scale(1,1.04)" font-size="54.5" text-anchor="end" stroke="#000" stroke-width="0.27">-0,4</text>
<text transform="translate(240.5,796.7) scale(1,1.04)" font-size="54.5" text-anchor="end" stroke="#000" stroke-width="0.27">-0,6</text>
<text transform="translate(240.5,961.6) scale(1,1.04)" font-size="54.5" text-anchor="end" stroke="#000" stroke-width="0.27">-0,8</text>
<text transform="translate(240.5,1126.5) scale(1,1.04)" font-size="54.5" text-anchor="end" stroke="#000" stroke-width="0.27">-1,0</text>
<text transform="translate(240.5,1291.4) scale(1,1.04)" font-size="54.5" text-anchor="end" stroke="#000" stroke-width="0.27">-1,2</text>
<text transform="translate(286.3,1444) scale(1,1.04)" font-size="54.5" text-anchor="middle" stroke="#000" stroke-width="0.27">100p</text>
<text transform="translate(508.9,1444) scale(1,1.04)" font-size="54.5" text-anchor="middle" stroke="#000" stroke-width="0.27">1n</text>
<text transform="translate(731.4,1444) scale(1,1.04)" font-size="54.5" text-anchor="middle" stroke="#000" stroke-width="0.27">10n</text>
<text transform="translate(954.0,1444) scale(1,1.04)" font-size="54.5" text-anchor="middle" stroke="#000" stroke-width="0.27">100n</text>
<text transform="translate(1176.5,1444) scale(1,1.04)" font-size="54.5" text-anchor="middle" stroke="#000" stroke-width="0.27">1µ</text>
<text transform="translate(1399.1,1444) scale(1,1.04)" font-size="54.5" text-anchor="middle" stroke="#000" stroke-width="0.27">10µ</text>
<text transform="translate(1621.7,1444) scale(1,1.04)" font-size="54.5" text-anchor="middle" stroke="#000" stroke-width="0.27">100µ</text>
<text transform="translate(1844.2,1444) scale(1,1.04)" font-size="54.5" text-anchor="middle" stroke="#000" stroke-width="0.27">1m</text>
<text transform="translate(2066.8,1444) scale(1,1.04)" font-size="54.5" text-anchor="middle" stroke="#000" stroke-width="0.27">10m</text>
<text transform="translate(1175,1567.5) scale(1,1.02)" font-size="87" text-anchor="middle" stroke="#000" stroke-width="0.43">Current (A)</text>
<text transform="translate(100.5,675) rotate(-90) scale(1,1.02)" font-size="87" text-anchor="middle" stroke="#000" stroke-width="0.43">Vf(V vs  Ref)</text>
</g>
</svg>
</body>
</html>
